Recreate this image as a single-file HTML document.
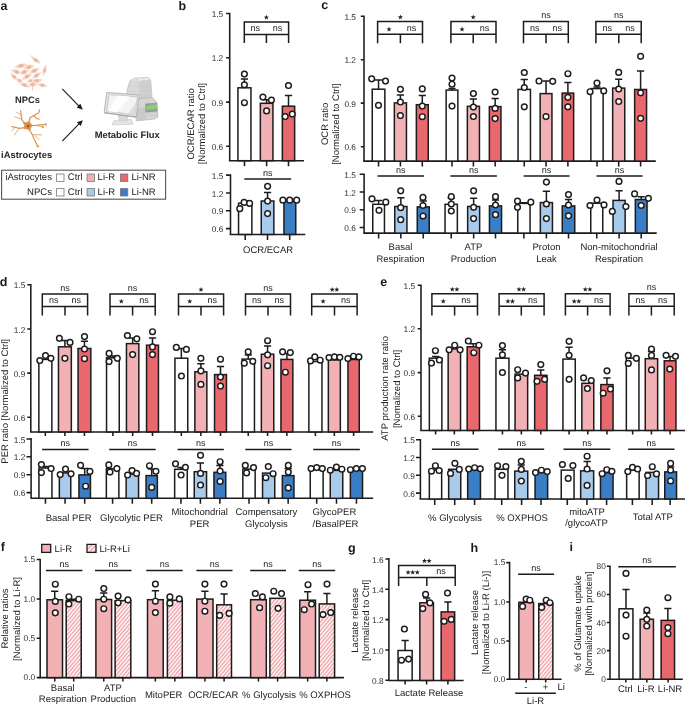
<!DOCTYPE html>
<html><head><meta charset="utf-8"><style>
html,body{margin:0;padding:0;background:#fff;}
svg{display:block;will-change:transform;}
text{font-family:"Liberation Sans", sans-serif;text-rendering:geometricPrecision;}
</style></head><body>
<svg width="685" height="705" viewBox="0 0 685 705">
<defs>
<pattern id="hatch" patternUnits="userSpaceOnUse" width="2.45" height="2.45" patternTransform="rotate(37)">
<rect width="2.45" height="2.45" fill="#f2b1b5"/>
<rect width="0.95" height="2.45" fill="#fff"/>
</pattern>
<pattern id="hatch2" patternUnits="userSpaceOnUse" width="3.2" height="3.2" patternTransform="rotate(45)"><rect width="3.2" height="3.2" fill="#f2b1b5"/><rect width="1.2" height="3.2" fill="#fff"/></pattern>
</defs>
<rect width="685" height="705" fill="#fff"/>
<text x="0.50" y="9.60" font-size="12.5" text-anchor="start" fill="#1a1a1a" font-weight="bold">a</text>
<text x="178.50" y="10.00" font-size="12.5" text-anchor="start" fill="#1a1a1a" font-weight="bold">b</text>
<text x="321.30" y="9.20" font-size="12.5" text-anchor="start" fill="#1a1a1a" font-weight="bold">c</text>
<text x="-0.30" y="286.00" font-size="12.5" text-anchor="start" fill="#1a1a1a" font-weight="bold">d</text>
<text x="380.30" y="286.00" font-size="12.5" text-anchor="start" fill="#1a1a1a" font-weight="bold">e</text>
<text x="0.80" y="551.20" font-size="12.5" text-anchor="start" fill="#1a1a1a" font-weight="bold">f</text>
<text x="348.00" y="552.00" font-size="12.5" text-anchor="start" fill="#1a1a1a" font-weight="bold">g</text>
<text x="470.60" y="551.80" font-size="12.5" text-anchor="start" fill="#1a1a1a" font-weight="bold">h</text>
<text x="569.60" y="551.20" font-size="12.5" text-anchor="start" fill="#1a1a1a" font-weight="bold">i</text>
<path d="M229.70 12.72V160.70M226.10 13.50H229.70M226.10 57.80H229.70M226.10 102.10H229.70M226.10 146.30H229.70" stroke="#1d1b1b" stroke-width="1.55" fill="none"/>
<text x="223.20" y="17.10" font-size="8.3" text-anchor="end" fill="#2e2e2e">1.5</text>
<text x="223.20" y="61.40" font-size="8.3" text-anchor="end" fill="#2e2e2e">1.2</text>
<text x="223.20" y="105.70" font-size="8.3" text-anchor="end" fill="#2e2e2e">0.9</text>
<text x="223.20" y="149.90" font-size="8.3" text-anchor="end" fill="#2e2e2e">0.6</text>
<path d="M228.92 160.70H304.00M244.50 160.70V166.20M266.60 160.70V166.20M288.50 160.70V166.20" stroke="#1d1b1b" stroke-width="1.55" fill="none"/>
<rect x="237.95" y="87.80" width="13.00" height="72.90" fill="#ffffff" stroke="#1d1b1b" stroke-width="1.5"/>
<rect x="260.35" y="103.30" width="12.60" height="57.40" fill="#f2b1b5" stroke="#1d1b1b" stroke-width="1.5"/>
<rect x="282.35" y="106.20" width="12.30" height="54.50" fill="#e8686e" stroke="#1d1b1b" stroke-width="1.5"/>
<path d="M244.45 87.90V78.90M240.85 78.90H248.05" stroke="#1d1b1b" stroke-width="1.5" fill="none"/>
<path d="M266.65 103.40V99.80M263.05 99.80H270.25" stroke="#1d1b1b" stroke-width="1.5" fill="none"/>
<path d="M288.50 106.30V95.50M284.90 95.50H292.10" stroke="#1d1b1b" stroke-width="1.5" fill="none"/>
<circle cx="244.40" cy="74.10" r="2.85" fill="#fff" stroke="#1d1b1b" stroke-width="1.45"/>
<circle cx="244.40" cy="84.80" r="2.85" fill="#fff" stroke="#1d1b1b" stroke-width="1.45"/>
<circle cx="244.40" cy="102.70" r="2.85" fill="#fff" stroke="#1d1b1b" stroke-width="1.45"/>
<circle cx="262.90" cy="97.10" r="2.85" fill="#fff" stroke="#1d1b1b" stroke-width="1.45"/>
<circle cx="271.40" cy="100.10" r="2.85" fill="#fff" stroke="#1d1b1b" stroke-width="1.45"/>
<circle cx="266.60" cy="110.90" r="2.85" fill="#fff" stroke="#1d1b1b" stroke-width="1.45"/>
<circle cx="288.50" cy="85.50" r="2.85" fill="#fff" stroke="#1d1b1b" stroke-width="1.45"/>
<circle cx="285.20" cy="116.50" r="2.85" fill="#fff" stroke="#1d1b1b" stroke-width="1.45"/>
<circle cx="292.30" cy="114.10" r="2.85" fill="#fff" stroke="#1d1b1b" stroke-width="1.45"/>
<path d="M244.30 43.10V21.90H288.60V43.10M244.30 34.60H288.60M266.40 34.60V43.10" stroke="#1d1b1b" stroke-width="1.5" fill="none"/>
<path d="M266.40 14.80 L267.06 16.59 L268.97 16.67 L267.47 17.85 L267.99 19.68 L266.40 18.62 L264.81 19.68 L265.33 17.85 L263.83 16.67 L265.74 16.59Z" fill="#222222"/>
<text x="255.35" y="31.20" font-size="9.0" text-anchor="middle" fill="#222222">ns</text>
<text x="277.50" y="31.20" font-size="9.0" text-anchor="middle" fill="#222222">ns</text>
<path d="M230.50 174.32V234.40M226.00 175.10H230.50M226.00 193.00H230.50M226.00 210.80H230.50M226.00 228.60H230.50" stroke="#1d1b1b" stroke-width="1.55" fill="none"/>
<text x="223.40" y="178.70" font-size="8.3" text-anchor="end" fill="#2e2e2e">1.5</text>
<text x="223.40" y="196.60" font-size="8.3" text-anchor="end" fill="#2e2e2e">1.2</text>
<text x="223.40" y="214.40" font-size="8.3" text-anchor="end" fill="#2e2e2e">0.9</text>
<text x="223.40" y="232.20" font-size="8.3" text-anchor="end" fill="#2e2e2e">0.6</text>
<path d="M229.72 234.40H305.30M245.20 234.40V239.90M267.50 234.40V239.90M289.70 234.40V239.90" stroke="#1d1b1b" stroke-width="1.55" fill="none"/>
<rect x="238.55" y="203.20" width="13.30" height="31.20" fill="#ffffff" stroke="#1d1b1b" stroke-width="1.5"/>
<rect x="261.25" y="201.00" width="12.60" height="33.40" fill="#a9cbeb" stroke="#1d1b1b" stroke-width="1.5"/>
<rect x="283.95" y="200.60" width="11.80" height="33.80" fill="#3a7ec6" stroke="#1d1b1b" stroke-width="1.5"/>
<path d="M245.20 203.30V201.00M241.60 201.00H248.80" stroke="#1d1b1b" stroke-width="1.5" fill="none"/>
<path d="M267.55 201.10V192.60M263.95 192.60H271.15" stroke="#1d1b1b" stroke-width="1.5" fill="none"/>
<path d="M289.85 200.70V199.50M286.25 199.50H293.45" stroke="#1d1b1b" stroke-width="1.5" fill="none"/>
<circle cx="239.80" cy="208.70" r="2.85" fill="#fff" stroke="#1d1b1b" stroke-width="1.45"/>
<circle cx="244.10" cy="202.40" r="2.85" fill="#fff" stroke="#1d1b1b" stroke-width="1.45"/>
<circle cx="249.60" cy="203.40" r="2.85" fill="#fff" stroke="#1d1b1b" stroke-width="1.45"/>
<circle cx="267.60" cy="186.30" r="2.85" fill="#fff" stroke="#1d1b1b" stroke-width="1.45"/>
<circle cx="267.60" cy="201.10" r="2.85" fill="#fff" stroke="#1d1b1b" stroke-width="1.45"/>
<circle cx="267.60" cy="213.60" r="2.85" fill="#fff" stroke="#1d1b1b" stroke-width="1.45"/>
<circle cx="282.90" cy="200.20" r="2.85" fill="#fff" stroke="#1d1b1b" stroke-width="1.45"/>
<circle cx="289.70" cy="200.20" r="2.85" fill="#fff" stroke="#1d1b1b" stroke-width="1.45"/>
<circle cx="296.70" cy="200.20" r="2.85" fill="#fff" stroke="#1d1b1b" stroke-width="1.45"/>
<path d="M244.30 179.00H291.20" stroke="#1d1b1b" stroke-width="1.5" fill="none"/>
<text x="267.75" y="175.60" font-size="9.0" text-anchor="middle" fill="#222222">ns</text>
<text x="194.30" y="123.90" font-size="9.5" text-anchor="middle" fill="#222222" transform="rotate(-90 194.30 123.90)">OCR/ECAR ratio</text>
<text x="205.20" y="123.70" font-size="9.5" text-anchor="middle" fill="#222222" transform="rotate(-90 205.20 123.70)">[Normalized to Ctrl]</text>
<text x="268.10" y="253.20" font-size="9.5" text-anchor="middle" fill="#222222">OCR/ECAR</text>
<path d="M364.00 15.53V161.10M360.80 16.30H364.00M360.80 59.70H364.00M360.80 103.10H364.00M360.80 146.70H364.00" stroke="#1d1b1b" stroke-width="1.55" fill="none"/>
<text x="356.00" y="19.90" font-size="8.3" text-anchor="end" fill="#2e2e2e">1.5</text>
<text x="356.00" y="63.30" font-size="8.3" text-anchor="end" fill="#2e2e2e">1.2</text>
<text x="356.00" y="106.70" font-size="8.3" text-anchor="end" fill="#2e2e2e">0.9</text>
<text x="356.00" y="150.30" font-size="8.3" text-anchor="end" fill="#2e2e2e">0.6</text>
<path d="M363.23 161.10H655.80M378.55 161.10V166.60M400.40 161.10V166.60M422.30 161.10V166.60M452.00 161.10V166.60M473.40 161.10V166.60M495.15 161.10V166.60M524.25 161.10V166.60M546.05 161.10V166.60M567.90 161.10V166.60M597.00 161.10V166.60M618.70 161.10V166.60M640.60 161.10V166.60" stroke="#1d1b1b" stroke-width="1.55" fill="none"/>
<rect x="372.25" y="89.20" width="12.60" height="71.90" fill="#ffffff" stroke="#1d1b1b" stroke-width="1.5"/>
<rect x="394.35" y="102.90" width="12.10" height="58.20" fill="#f2b1b5" stroke="#1d1b1b" stroke-width="1.5"/>
<rect x="416.35" y="104.70" width="11.90" height="56.40" fill="#e8686e" stroke="#1d1b1b" stroke-width="1.5"/>
<path d="M378.55 89.30V80.10M374.95 80.10H382.15" stroke="#1d1b1b" stroke-width="1.5" fill="none"/>
<path d="M400.40 103.00V95.00M396.80 95.00H404.00" stroke="#1d1b1b" stroke-width="1.5" fill="none"/>
<path d="M422.30 104.80V95.60M418.70 95.60H425.90" stroke="#1d1b1b" stroke-width="1.5" fill="none"/>
<circle cx="371.70" cy="78.80" r="2.85" fill="#fff" stroke="#1d1b1b" stroke-width="1.45"/>
<circle cx="385.50" cy="81.10" r="2.85" fill="#fff" stroke="#1d1b1b" stroke-width="1.45"/>
<circle cx="378.50" cy="105.30" r="2.85" fill="#fff" stroke="#1d1b1b" stroke-width="1.45"/>
<circle cx="400.40" cy="89.30" r="2.85" fill="#fff" stroke="#1d1b1b" stroke-width="1.45"/>
<circle cx="400.40" cy="102.00" r="2.85" fill="#fff" stroke="#1d1b1b" stroke-width="1.45"/>
<circle cx="400.40" cy="115.60" r="2.85" fill="#fff" stroke="#1d1b1b" stroke-width="1.45"/>
<circle cx="422.30" cy="88.90" r="2.85" fill="#fff" stroke="#1d1b1b" stroke-width="1.45"/>
<circle cx="422.30" cy="106.10" r="2.85" fill="#fff" stroke="#1d1b1b" stroke-width="1.45"/>
<circle cx="422.30" cy="116.70" r="2.85" fill="#fff" stroke="#1d1b1b" stroke-width="1.45"/>
<rect x="446.15" y="90.10" width="11.70" height="71.00" fill="#ffffff" stroke="#1d1b1b" stroke-width="1.5"/>
<rect x="467.35" y="106.30" width="12.10" height="54.80" fill="#f2b1b5" stroke="#1d1b1b" stroke-width="1.5"/>
<rect x="489.35" y="106.60" width="11.60" height="54.50" fill="#e8686e" stroke="#1d1b1b" stroke-width="1.5"/>
<path d="M452.00 90.20V88.60M448.40 88.60H455.60" stroke="#1d1b1b" stroke-width="1.5" fill="none"/>
<path d="M473.40 106.40V99.00M469.80 99.00H477.00" stroke="#1d1b1b" stroke-width="1.5" fill="none"/>
<path d="M495.15 106.70V98.60M491.55 98.60H498.75" stroke="#1d1b1b" stroke-width="1.5" fill="none"/>
<circle cx="452.00" cy="78.10" r="2.85" fill="#fff" stroke="#1d1b1b" stroke-width="1.45"/>
<circle cx="452.00" cy="84.20" r="2.85" fill="#fff" stroke="#1d1b1b" stroke-width="1.45"/>
<circle cx="452.00" cy="106.10" r="2.85" fill="#fff" stroke="#1d1b1b" stroke-width="1.45"/>
<circle cx="473.40" cy="93.60" r="2.85" fill="#fff" stroke="#1d1b1b" stroke-width="1.45"/>
<circle cx="473.40" cy="107.10" r="2.85" fill="#fff" stroke="#1d1b1b" stroke-width="1.45"/>
<circle cx="473.40" cy="116.50" r="2.85" fill="#fff" stroke="#1d1b1b" stroke-width="1.45"/>
<circle cx="495.10" cy="92.00" r="2.85" fill="#fff" stroke="#1d1b1b" stroke-width="1.45"/>
<circle cx="495.10" cy="108.40" r="2.85" fill="#fff" stroke="#1d1b1b" stroke-width="1.45"/>
<circle cx="495.10" cy="118.60" r="2.85" fill="#fff" stroke="#1d1b1b" stroke-width="1.45"/>
<rect x="518.05" y="89.40" width="12.40" height="71.70" fill="#ffffff" stroke="#1d1b1b" stroke-width="1.5"/>
<rect x="540.15" y="93.60" width="11.80" height="67.50" fill="#f2b1b5" stroke="#1d1b1b" stroke-width="1.5"/>
<rect x="562.15" y="93.10" width="11.50" height="68.00" fill="#e8686e" stroke="#1d1b1b" stroke-width="1.5"/>
<path d="M524.25 89.50V79.40M520.65 79.40H527.85" stroke="#1d1b1b" stroke-width="1.5" fill="none"/>
<path d="M546.05 93.70V81.00M542.45 81.00H549.65" stroke="#1d1b1b" stroke-width="1.5" fill="none"/>
<path d="M567.90 93.20V82.60M564.30 82.60H571.50" stroke="#1d1b1b" stroke-width="1.5" fill="none"/>
<circle cx="524.30" cy="72.50" r="2.85" fill="#fff" stroke="#1d1b1b" stroke-width="1.45"/>
<circle cx="524.30" cy="87.50" r="2.85" fill="#fff" stroke="#1d1b1b" stroke-width="1.45"/>
<circle cx="524.30" cy="106.80" r="2.85" fill="#fff" stroke="#1d1b1b" stroke-width="1.45"/>
<circle cx="539.00" cy="81.00" r="2.85" fill="#fff" stroke="#1d1b1b" stroke-width="1.45"/>
<circle cx="552.70" cy="81.30" r="2.85" fill="#fff" stroke="#1d1b1b" stroke-width="1.45"/>
<circle cx="546.00" cy="116.60" r="2.85" fill="#fff" stroke="#1d1b1b" stroke-width="1.45"/>
<circle cx="567.90" cy="73.70" r="2.85" fill="#fff" stroke="#1d1b1b" stroke-width="1.45"/>
<circle cx="567.90" cy="97.30" r="2.85" fill="#fff" stroke="#1d1b1b" stroke-width="1.45"/>
<circle cx="567.90" cy="106.80" r="2.85" fill="#fff" stroke="#1d1b1b" stroke-width="1.45"/>
<rect x="590.85" y="88.60" width="12.30" height="72.50" fill="#ffffff" stroke="#1d1b1b" stroke-width="1.5"/>
<rect x="612.65" y="88.10" width="12.10" height="73.00" fill="#f2b1b5" stroke="#1d1b1b" stroke-width="1.5"/>
<rect x="634.65" y="89.50" width="11.90" height="71.60" fill="#e8686e" stroke="#1d1b1b" stroke-width="1.5"/>
<path d="M597.00 88.70V87.00M593.40 87.00H600.60" stroke="#1d1b1b" stroke-width="1.5" fill="none"/>
<path d="M618.70 88.20V79.30M615.10 79.30H622.30" stroke="#1d1b1b" stroke-width="1.5" fill="none"/>
<path d="M640.60 89.60V71.00M637.00 71.00H644.20" stroke="#1d1b1b" stroke-width="1.5" fill="none"/>
<circle cx="590.10" cy="91.70" r="2.85" fill="#fff" stroke="#1d1b1b" stroke-width="1.45"/>
<circle cx="597.00" cy="83.10" r="2.85" fill="#fff" stroke="#1d1b1b" stroke-width="1.45"/>
<circle cx="603.70" cy="90.90" r="2.85" fill="#fff" stroke="#1d1b1b" stroke-width="1.45"/>
<circle cx="618.70" cy="72.40" r="2.85" fill="#fff" stroke="#1d1b1b" stroke-width="1.45"/>
<circle cx="618.70" cy="89.10" r="2.85" fill="#fff" stroke="#1d1b1b" stroke-width="1.45"/>
<circle cx="618.70" cy="101.50" r="2.85" fill="#fff" stroke="#1d1b1b" stroke-width="1.45"/>
<circle cx="640.60" cy="56.30" r="2.85" fill="#fff" stroke="#1d1b1b" stroke-width="1.45"/>
<circle cx="640.60" cy="92.80" r="2.85" fill="#fff" stroke="#1d1b1b" stroke-width="1.45"/>
<circle cx="640.60" cy="118.30" r="2.85" fill="#fff" stroke="#1d1b1b" stroke-width="1.45"/>
<path d="M377.60 43.30V21.60H422.50V43.30M377.60 34.30H422.50M400.40 34.30V43.30" stroke="#1d1b1b" stroke-width="1.5" fill="none"/>
<path d="M400.40 14.50 L401.06 16.29 L402.97 16.37 L401.47 17.55 L401.99 19.38 L400.40 18.32 L398.81 19.38 L399.33 17.55 L397.83 16.37 L399.74 16.29Z" fill="#222222"/>
<path d="M389.00 26.60 L389.66 28.39 L391.57 28.47 L390.07 29.65 L390.59 31.48 L389.00 30.42 L387.41 31.48 L387.93 29.65 L386.43 28.47 L388.34 28.39Z" fill="#222222"/>
<text x="411.45" y="30.90" font-size="9.0" text-anchor="middle" fill="#222222">ns</text>
<path d="M450.90 43.30V21.60H496.00V43.30M450.90 34.30H496.00M473.20 34.30V43.30" stroke="#1d1b1b" stroke-width="1.5" fill="none"/>
<path d="M473.20 14.50 L473.86 16.29 L475.77 16.37 L474.27 17.55 L474.79 19.38 L473.20 18.32 L471.61 19.38 L472.13 17.55 L470.63 16.37 L472.54 16.29Z" fill="#222222"/>
<path d="M462.05 26.60 L462.71 28.39 L464.62 28.47 L463.12 29.65 L463.64 31.48 L462.05 30.42 L460.46 31.48 L460.98 29.65 L459.48 28.47 L461.39 28.39Z" fill="#222222"/>
<text x="484.60" y="30.90" font-size="9.0" text-anchor="middle" fill="#222222">ns</text>
<path d="M523.50 43.30V21.60H568.30V43.30M523.50 34.30H568.30M546.00 34.30V43.30" stroke="#1d1b1b" stroke-width="1.5" fill="none"/>
<text x="546.00" y="18.20" font-size="9.0" text-anchor="middle" fill="#222222">ns</text>
<text x="534.75" y="30.90" font-size="9.0" text-anchor="middle" fill="#222222">ns</text>
<text x="557.15" y="30.90" font-size="9.0" text-anchor="middle" fill="#222222">ns</text>
<path d="M595.90 43.30V21.60H641.20V43.30M595.90 34.30H641.20M618.80 34.30V43.30" stroke="#1d1b1b" stroke-width="1.5" fill="none"/>
<text x="618.80" y="18.20" font-size="9.0" text-anchor="middle" fill="#222222">ns</text>
<text x="607.35" y="30.90" font-size="9.0" text-anchor="middle" fill="#222222">ns</text>
<text x="630.00" y="30.90" font-size="9.0" text-anchor="middle" fill="#222222">ns</text>
<path d="M364.10 173.42V233.10M359.70 174.20H364.10M359.70 192.00H364.10M359.70 209.80H364.10M359.70 227.50H364.10" stroke="#1d1b1b" stroke-width="1.55" fill="none"/>
<text x="355.90" y="177.80" font-size="8.3" text-anchor="end" fill="#2e2e2e">1.5</text>
<text x="355.90" y="195.60" font-size="8.3" text-anchor="end" fill="#2e2e2e">1.2</text>
<text x="355.90" y="213.40" font-size="8.3" text-anchor="end" fill="#2e2e2e">0.9</text>
<text x="355.90" y="231.10" font-size="8.3" text-anchor="end" fill="#2e2e2e">0.6</text>
<path d="M363.33 233.10H656.70M378.60 233.10V238.60M400.85 233.10V238.60M423.25 233.10V238.60M451.20 233.10V238.60M473.65 233.10V238.60M495.50 233.10V238.60M523.90 233.10V238.60M546.40 233.10V238.60M568.50 233.10V238.60M596.75 233.10V238.60M619.10 233.10V238.60M641.20 233.10V238.60" stroke="#1d1b1b" stroke-width="1.55" fill="none"/>
<rect x="372.75" y="204.30" width="11.70" height="28.80" fill="#ffffff" stroke="#1d1b1b" stroke-width="1.5"/>
<rect x="394.75" y="206.50" width="12.20" height="26.60" fill="#a9cbeb" stroke="#1d1b1b" stroke-width="1.5"/>
<rect x="417.25" y="206.90" width="12.00" height="26.20" fill="#3a7ec6" stroke="#1d1b1b" stroke-width="1.5"/>
<path d="M378.60 204.40V200.50M375.00 200.50H382.20" stroke="#1d1b1b" stroke-width="1.5" fill="none"/>
<path d="M400.85 206.60V197.80M397.25 197.80H404.45" stroke="#1d1b1b" stroke-width="1.5" fill="none"/>
<path d="M423.25 207.00V201.10M419.65 201.10H426.85" stroke="#1d1b1b" stroke-width="1.5" fill="none"/>
<circle cx="372.00" cy="198.90" r="2.85" fill="#fff" stroke="#1d1b1b" stroke-width="1.45"/>
<circle cx="385.80" cy="202.20" r="2.85" fill="#fff" stroke="#1d1b1b" stroke-width="1.45"/>
<circle cx="379.00" cy="210.30" r="2.85" fill="#fff" stroke="#1d1b1b" stroke-width="1.45"/>
<circle cx="400.70" cy="190.80" r="2.85" fill="#fff" stroke="#1d1b1b" stroke-width="1.45"/>
<circle cx="400.70" cy="207.70" r="2.85" fill="#fff" stroke="#1d1b1b" stroke-width="1.45"/>
<circle cx="400.70" cy="219.70" r="2.85" fill="#fff" stroke="#1d1b1b" stroke-width="1.45"/>
<circle cx="423.00" cy="197.40" r="2.85" fill="#fff" stroke="#1d1b1b" stroke-width="1.45"/>
<circle cx="423.00" cy="205.50" r="2.85" fill="#fff" stroke="#1d1b1b" stroke-width="1.45"/>
<circle cx="423.00" cy="216.00" r="2.85" fill="#fff" stroke="#1d1b1b" stroke-width="1.45"/>
<rect x="445.05" y="204.30" width="12.30" height="28.80" fill="#ffffff" stroke="#1d1b1b" stroke-width="1.5"/>
<rect x="467.65" y="206.50" width="12.00" height="26.60" fill="#a9cbeb" stroke="#1d1b1b" stroke-width="1.5"/>
<rect x="489.45" y="205.90" width="12.10" height="27.20" fill="#3a7ec6" stroke="#1d1b1b" stroke-width="1.5"/>
<path d="M451.20 204.40V198.00M447.60 198.00H454.80" stroke="#1d1b1b" stroke-width="1.5" fill="none"/>
<path d="M473.65 206.60V198.30M470.05 198.30H477.25" stroke="#1d1b1b" stroke-width="1.5" fill="none"/>
<path d="M495.50 206.00V200.00M491.90 200.00H499.10" stroke="#1d1b1b" stroke-width="1.5" fill="none"/>
<circle cx="451.30" cy="196.70" r="2.85" fill="#fff" stroke="#1d1b1b" stroke-width="1.45"/>
<circle cx="451.30" cy="204.00" r="2.85" fill="#fff" stroke="#1d1b1b" stroke-width="1.45"/>
<circle cx="451.30" cy="211.00" r="2.85" fill="#fff" stroke="#1d1b1b" stroke-width="1.45"/>
<circle cx="473.60" cy="190.80" r="2.85" fill="#fff" stroke="#1d1b1b" stroke-width="1.45"/>
<circle cx="473.60" cy="207.30" r="2.85" fill="#fff" stroke="#1d1b1b" stroke-width="1.45"/>
<circle cx="473.60" cy="218.60" r="2.85" fill="#fff" stroke="#1d1b1b" stroke-width="1.45"/>
<circle cx="495.50" cy="196.70" r="2.85" fill="#fff" stroke="#1d1b1b" stroke-width="1.45"/>
<circle cx="495.50" cy="205.00" r="2.85" fill="#fff" stroke="#1d1b1b" stroke-width="1.45"/>
<circle cx="495.50" cy="214.70" r="2.85" fill="#fff" stroke="#1d1b1b" stroke-width="1.45"/>
<rect x="517.75" y="203.40" width="12.30" height="29.70" fill="#ffffff" stroke="#1d1b1b" stroke-width="1.5"/>
<rect x="540.35" y="202.60" width="12.10" height="30.50" fill="#a9cbeb" stroke="#1d1b1b" stroke-width="1.5"/>
<rect x="562.25" y="205.90" width="12.50" height="27.20" fill="#3a7ec6" stroke="#1d1b1b" stroke-width="1.5"/>
<path d="M523.90 203.50V202.70M520.30 202.70H527.50" stroke="#1d1b1b" stroke-width="1.5" fill="none"/>
<path d="M546.40 202.70V191.30M542.80 191.30H550.00" stroke="#1d1b1b" stroke-width="1.5" fill="none"/>
<path d="M568.50 206.00V199.40M564.90 199.40H572.10" stroke="#1d1b1b" stroke-width="1.5" fill="none"/>
<circle cx="517.50" cy="201.10" r="2.85" fill="#fff" stroke="#1d1b1b" stroke-width="1.45"/>
<circle cx="517.50" cy="207.30" r="2.85" fill="#fff" stroke="#1d1b1b" stroke-width="1.45"/>
<circle cx="530.80" cy="202.20" r="2.85" fill="#fff" stroke="#1d1b1b" stroke-width="1.45"/>
<circle cx="546.40" cy="182.10" r="2.85" fill="#fff" stroke="#1d1b1b" stroke-width="1.45"/>
<circle cx="546.40" cy="204.00" r="2.85" fill="#fff" stroke="#1d1b1b" stroke-width="1.45"/>
<circle cx="546.40" cy="218.60" r="2.85" fill="#fff" stroke="#1d1b1b" stroke-width="1.45"/>
<circle cx="568.50" cy="194.60" r="2.85" fill="#fff" stroke="#1d1b1b" stroke-width="1.45"/>
<circle cx="568.50" cy="205.00" r="2.85" fill="#fff" stroke="#1d1b1b" stroke-width="1.45"/>
<circle cx="568.50" cy="215.80" r="2.85" fill="#fff" stroke="#1d1b1b" stroke-width="1.45"/>
<rect x="590.75" y="203.20" width="12.00" height="29.90" fill="#ffffff" stroke="#1d1b1b" stroke-width="1.5"/>
<rect x="613.05" y="200.40" width="12.10" height="32.70" fill="#a9cbeb" stroke="#1d1b1b" stroke-width="1.5"/>
<rect x="635.35" y="199.50" width="11.70" height="33.60" fill="#3a7ec6" stroke="#1d1b1b" stroke-width="1.5"/>
<path d="M619.10 200.50V190.80M615.50 190.80H622.70" stroke="#1d1b1b" stroke-width="1.5" fill="none"/>
<path d="M641.20 199.60V196.70M637.60 196.70H644.80" stroke="#1d1b1b" stroke-width="1.5" fill="none"/>
<circle cx="590.00" cy="205.50" r="2.85" fill="#fff" stroke="#1d1b1b" stroke-width="1.45"/>
<circle cx="597.00" cy="200.00" r="2.85" fill="#fff" stroke="#1d1b1b" stroke-width="1.45"/>
<circle cx="604.00" cy="204.90" r="2.85" fill="#fff" stroke="#1d1b1b" stroke-width="1.45"/>
<circle cx="612.30" cy="211.40" r="2.85" fill="#fff" stroke="#1d1b1b" stroke-width="1.45"/>
<circle cx="619.00" cy="181.40" r="2.85" fill="#fff" stroke="#1d1b1b" stroke-width="1.45"/>
<circle cx="625.90" cy="206.60" r="2.85" fill="#fff" stroke="#1d1b1b" stroke-width="1.45"/>
<circle cx="634.60" cy="193.90" r="2.85" fill="#fff" stroke="#1d1b1b" stroke-width="1.45"/>
<circle cx="648.40" cy="198.30" r="2.85" fill="#fff" stroke="#1d1b1b" stroke-width="1.45"/>
<circle cx="641.20" cy="205.50" r="2.85" fill="#fff" stroke="#1d1b1b" stroke-width="1.45"/>
<path d="M377.50 176.00H424.00" stroke="#1d1b1b" stroke-width="1.5" fill="none"/>
<text x="400.75" y="172.60" font-size="9.0" text-anchor="middle" fill="#222222">ns</text>
<path d="M450.40 176.00H496.90" stroke="#1d1b1b" stroke-width="1.5" fill="none"/>
<text x="473.65" y="172.60" font-size="9.0" text-anchor="middle" fill="#222222">ns</text>
<path d="M523.60 176.00H569.60" stroke="#1d1b1b" stroke-width="1.5" fill="none"/>
<text x="546.60" y="172.60" font-size="9.0" text-anchor="middle" fill="#222222">ns</text>
<path d="M596.50 176.00H642.50" stroke="#1d1b1b" stroke-width="1.5" fill="none"/>
<text x="619.50" y="172.60" font-size="9.0" text-anchor="middle" fill="#222222">ns</text>
<text x="328.20" y="123.90" font-size="9.5" text-anchor="middle" fill="#222222" transform="rotate(-90 328.20 123.90)">OCR ratio</text>
<text x="338.70" y="124.20" font-size="9.5" text-anchor="middle" fill="#222222" transform="rotate(-90 338.70 124.20)">[Normalized to Ctrl]</text>
<text x="400.50" y="250.30" font-size="9.5" text-anchor="middle" fill="#222222">Basal</text>
<text x="400.50" y="262.00" font-size="9.5" text-anchor="middle" fill="#222222">Respiration</text>
<text x="473.50" y="250.30" font-size="9.5" text-anchor="middle" fill="#222222">ATP</text>
<text x="473.50" y="262.00" font-size="9.5" text-anchor="middle" fill="#222222">Production</text>
<text x="546.50" y="250.30" font-size="9.5" text-anchor="middle" fill="#222222">Proton</text>
<text x="546.50" y="262.00" font-size="9.5" text-anchor="middle" fill="#222222">Leak</text>
<text x="619.00" y="250.30" font-size="9.5" text-anchor="middle" fill="#222222">Non-mitochondrial</text>
<text x="619.00" y="262.00" font-size="9.5" text-anchor="middle" fill="#222222">Respiration</text>
<path d="M30.80 283.93V431.90M27.30 284.70H30.80M27.30 328.90H30.80M27.30 373.10H30.80M27.30 417.30H30.80" stroke="#1d1b1b" stroke-width="1.55" fill="none"/>
<text x="25.40" y="288.30" font-size="8.3" text-anchor="end" fill="#2e2e2e">1.5</text>
<text x="25.40" y="332.50" font-size="8.3" text-anchor="end" fill="#2e2e2e">1.2</text>
<text x="25.40" y="376.70" font-size="8.3" text-anchor="end" fill="#2e2e2e">0.9</text>
<text x="25.40" y="420.90" font-size="8.3" text-anchor="end" fill="#2e2e2e">0.6</text>
<path d="M30.03 431.90H373.20M45.35 431.90V435.90M64.90 431.90V435.90M84.45 431.90V435.90M112.90 431.90V435.90M132.65 431.90V435.90M152.50 431.90V435.90M181.35 431.90V435.90M200.85 431.90V435.90M220.50 431.90V435.90M248.25 431.90V435.90M267.55 431.90V435.90M286.90 431.90V435.90M315.40 431.90V435.90M334.35 431.90V435.90M353.60 431.90V435.90" stroke="#1d1b1b" stroke-width="1.55" fill="none"/>
<rect x="38.85" y="359.40" width="13.00" height="72.50" fill="#ffffff" stroke="#1d1b1b" stroke-width="1.5"/>
<rect x="58.45" y="346.80" width="12.90" height="85.10" fill="#f2b1b5" stroke="#1d1b1b" stroke-width="1.5"/>
<rect x="78.05" y="348.50" width="12.80" height="83.40" fill="#e8686e" stroke="#1d1b1b" stroke-width="1.5"/>
<path d="M64.90 346.90V340.40M61.30 340.40H68.50" stroke="#1d1b1b" stroke-width="1.5" fill="none"/>
<path d="M84.45 348.60V341.20M80.85 341.20H88.05" stroke="#1d1b1b" stroke-width="1.5" fill="none"/>
<circle cx="39.80" cy="360.50" r="2.85" fill="#fff" stroke="#1d1b1b" stroke-width="1.45"/>
<circle cx="45.50" cy="355.60" r="2.85" fill="#fff" stroke="#1d1b1b" stroke-width="1.45"/>
<circle cx="50.90" cy="358.30" r="2.85" fill="#fff" stroke="#1d1b1b" stroke-width="1.45"/>
<circle cx="59.40" cy="338.30" r="2.85" fill="#fff" stroke="#1d1b1b" stroke-width="1.45"/>
<circle cx="70.00" cy="342.40" r="2.85" fill="#fff" stroke="#1d1b1b" stroke-width="1.45"/>
<circle cx="64.90" cy="358.30" r="2.85" fill="#fff" stroke="#1d1b1b" stroke-width="1.45"/>
<circle cx="84.50" cy="336.60" r="2.85" fill="#fff" stroke="#1d1b1b" stroke-width="1.45"/>
<circle cx="84.50" cy="349.00" r="2.85" fill="#fff" stroke="#1d1b1b" stroke-width="1.45"/>
<circle cx="84.50" cy="358.70" r="2.85" fill="#fff" stroke="#1d1b1b" stroke-width="1.45"/>
<rect x="106.55" y="357.80" width="12.70" height="74.10" fill="#ffffff" stroke="#1d1b1b" stroke-width="1.5"/>
<rect x="126.45" y="343.60" width="12.40" height="88.30" fill="#f2b1b5" stroke="#1d1b1b" stroke-width="1.5"/>
<rect x="146.55" y="345.20" width="11.90" height="86.70" fill="#e8686e" stroke="#1d1b1b" stroke-width="1.5"/>
<path d="M112.90 357.90V356.00M109.30 356.00H116.50" stroke="#1d1b1b" stroke-width="1.5" fill="none"/>
<path d="M132.65 343.70V338.00M129.05 338.00H136.25" stroke="#1d1b1b" stroke-width="1.5" fill="none"/>
<path d="M152.50 345.30V338.00M148.90 338.00H156.10" stroke="#1d1b1b" stroke-width="1.5" fill="none"/>
<circle cx="109.10" cy="353.40" r="2.85" fill="#fff" stroke="#1d1b1b" stroke-width="1.45"/>
<circle cx="109.10" cy="361.60" r="2.85" fill="#fff" stroke="#1d1b1b" stroke-width="1.45"/>
<circle cx="117.30" cy="358.30" r="2.85" fill="#fff" stroke="#1d1b1b" stroke-width="1.45"/>
<circle cx="127.40" cy="335.50" r="2.85" fill="#fff" stroke="#1d1b1b" stroke-width="1.45"/>
<circle cx="136.80" cy="338.80" r="2.85" fill="#fff" stroke="#1d1b1b" stroke-width="1.45"/>
<circle cx="132.60" cy="354.60" r="2.85" fill="#fff" stroke="#1d1b1b" stroke-width="1.45"/>
<circle cx="152.50" cy="331.70" r="2.85" fill="#fff" stroke="#1d1b1b" stroke-width="1.45"/>
<circle cx="152.50" cy="346.90" r="2.85" fill="#fff" stroke="#1d1b1b" stroke-width="1.45"/>
<circle cx="152.50" cy="354.60" r="2.85" fill="#fff" stroke="#1d1b1b" stroke-width="1.45"/>
<rect x="174.95" y="358.20" width="12.80" height="73.70" fill="#ffffff" stroke="#1d1b1b" stroke-width="1.5"/>
<rect x="194.85" y="371.80" width="12.00" height="60.10" fill="#f2b1b5" stroke="#1d1b1b" stroke-width="1.5"/>
<rect x="214.55" y="374.60" width="11.90" height="57.30" fill="#e8686e" stroke="#1d1b1b" stroke-width="1.5"/>
<path d="M181.35 358.30V348.60M177.75 348.60H184.95" stroke="#1d1b1b" stroke-width="1.5" fill="none"/>
<path d="M200.85 371.90V363.70M197.25 363.70H204.45" stroke="#1d1b1b" stroke-width="1.5" fill="none"/>
<path d="M220.50 374.70V366.50M216.90 366.50H224.10" stroke="#1d1b1b" stroke-width="1.5" fill="none"/>
<circle cx="176.30" cy="347.40" r="2.85" fill="#fff" stroke="#1d1b1b" stroke-width="1.45"/>
<circle cx="186.40" cy="349.40" r="2.85" fill="#fff" stroke="#1d1b1b" stroke-width="1.45"/>
<circle cx="181.40" cy="376.00" r="2.85" fill="#fff" stroke="#1d1b1b" stroke-width="1.45"/>
<circle cx="200.90" cy="358.30" r="2.85" fill="#fff" stroke="#1d1b1b" stroke-width="1.45"/>
<circle cx="200.90" cy="370.90" r="2.85" fill="#fff" stroke="#1d1b1b" stroke-width="1.45"/>
<circle cx="200.90" cy="384.40" r="2.85" fill="#fff" stroke="#1d1b1b" stroke-width="1.45"/>
<circle cx="220.50" cy="359.20" r="2.85" fill="#fff" stroke="#1d1b1b" stroke-width="1.45"/>
<circle cx="220.50" cy="377.10" r="2.85" fill="#fff" stroke="#1d1b1b" stroke-width="1.45"/>
<circle cx="220.50" cy="386.10" r="2.85" fill="#fff" stroke="#1d1b1b" stroke-width="1.45"/>
<rect x="242.05" y="359.10" width="12.40" height="72.80" fill="#ffffff" stroke="#1d1b1b" stroke-width="1.5"/>
<rect x="261.35" y="354.20" width="12.40" height="77.70" fill="#f2b1b5" stroke="#1d1b1b" stroke-width="1.5"/>
<rect x="280.95" y="359.40" width="11.90" height="72.50" fill="#e8686e" stroke="#1d1b1b" stroke-width="1.5"/>
<path d="M248.25 359.20V355.10M244.65 355.10H251.85" stroke="#1d1b1b" stroke-width="1.5" fill="none"/>
<path d="M267.55 354.30V346.10M263.95 346.10H271.15" stroke="#1d1b1b" stroke-width="1.5" fill="none"/>
<path d="M286.90 359.50V353.40M283.30 353.40H290.50" stroke="#1d1b1b" stroke-width="1.5" fill="none"/>
<circle cx="248.20" cy="351.80" r="2.85" fill="#fff" stroke="#1d1b1b" stroke-width="1.45"/>
<circle cx="244.30" cy="363.20" r="2.85" fill="#fff" stroke="#1d1b1b" stroke-width="1.45"/>
<circle cx="252.80" cy="361.30" r="2.85" fill="#fff" stroke="#1d1b1b" stroke-width="1.45"/>
<circle cx="267.60" cy="340.70" r="2.85" fill="#fff" stroke="#1d1b1b" stroke-width="1.45"/>
<circle cx="267.60" cy="354.80" r="2.85" fill="#fff" stroke="#1d1b1b" stroke-width="1.45"/>
<circle cx="267.60" cy="365.70" r="2.85" fill="#fff" stroke="#1d1b1b" stroke-width="1.45"/>
<circle cx="282.60" cy="351.80" r="2.85" fill="#fff" stroke="#1d1b1b" stroke-width="1.45"/>
<circle cx="290.30" cy="352.60" r="2.85" fill="#fff" stroke="#1d1b1b" stroke-width="1.45"/>
<circle cx="285.40" cy="372.20" r="2.85" fill="#fff" stroke="#1d1b1b" stroke-width="1.45"/>
<rect x="308.85" y="361.50" width="13.10" height="70.40" fill="#ffffff" stroke="#1d1b1b" stroke-width="1.5"/>
<rect x="328.35" y="359.90" width="12.00" height="72.00" fill="#f2b1b5" stroke="#1d1b1b" stroke-width="1.5"/>
<rect x="347.95" y="359.50" width="11.30" height="72.40" fill="#e8686e" stroke="#1d1b1b" stroke-width="1.5"/>
<circle cx="310.50" cy="360.90" r="2.85" fill="#fff" stroke="#1d1b1b" stroke-width="1.45"/>
<circle cx="314.80" cy="356.90" r="2.85" fill="#fff" stroke="#1d1b1b" stroke-width="1.45"/>
<circle cx="320.20" cy="360.20" r="2.85" fill="#fff" stroke="#1d1b1b" stroke-width="1.45"/>
<circle cx="329.00" cy="357.50" r="2.85" fill="#fff" stroke="#1d1b1b" stroke-width="1.45"/>
<circle cx="334.40" cy="356.90" r="2.85" fill="#fff" stroke="#1d1b1b" stroke-width="1.45"/>
<circle cx="339.80" cy="357.30" r="2.85" fill="#fff" stroke="#1d1b1b" stroke-width="1.45"/>
<circle cx="347.90" cy="358.60" r="2.85" fill="#fff" stroke="#1d1b1b" stroke-width="1.45"/>
<circle cx="353.50" cy="356.20" r="2.85" fill="#fff" stroke="#1d1b1b" stroke-width="1.45"/>
<circle cx="358.90" cy="356.90" r="2.85" fill="#fff" stroke="#1d1b1b" stroke-width="1.45"/>
<path d="M42.30 315.50V294.00H87.60V315.50M42.30 306.40H87.60M65.00 306.40V315.50" stroke="#1d1b1b" stroke-width="1.5" fill="none"/>
<text x="65.00" y="290.60" font-size="9.0" text-anchor="middle" fill="#222222">ns</text>
<text x="53.65" y="303.00" font-size="9.0" text-anchor="middle" fill="#222222">ns</text>
<text x="76.30" y="303.00" font-size="9.0" text-anchor="middle" fill="#222222">ns</text>
<path d="M110.00 315.50V294.00H155.20V315.50M110.00 306.40H155.20M132.60 306.40V315.50" stroke="#1d1b1b" stroke-width="1.5" fill="none"/>
<text x="132.60" y="290.60" font-size="9.0" text-anchor="middle" fill="#222222">ns</text>
<path d="M121.30 298.70 L121.96 300.49 L123.87 300.57 L122.37 301.75 L122.89 303.58 L121.30 302.52 L119.71 303.58 L120.23 301.75 L118.73 300.57 L120.64 300.49Z" fill="#222222"/>
<text x="143.90" y="303.00" font-size="9.0" text-anchor="middle" fill="#222222">ns</text>
<path d="M178.50 315.50V294.00H223.60V315.50M178.50 306.40H223.60M201.00 306.40V315.50" stroke="#1d1b1b" stroke-width="1.5" fill="none"/>
<path d="M201.00 286.90 L201.66 288.69 L203.57 288.77 L202.07 289.95 L202.59 291.78 L201.00 290.72 L199.41 291.78 L199.93 289.95 L198.43 288.77 L200.34 288.69Z" fill="#222222"/>
<path d="M189.75 298.70 L190.41 300.49 L192.32 300.57 L190.82 301.75 L191.34 303.58 L189.75 302.52 L188.16 303.58 L188.68 301.75 L187.18 300.57 L189.09 300.49Z" fill="#222222"/>
<text x="212.30" y="303.00" font-size="9.0" text-anchor="middle" fill="#222222">ns</text>
<path d="M245.50 315.50V294.00H290.50V315.50M245.50 306.40H290.50M268.00 306.40V315.50" stroke="#1d1b1b" stroke-width="1.5" fill="none"/>
<text x="268.00" y="290.60" font-size="9.0" text-anchor="middle" fill="#222222">ns</text>
<text x="256.75" y="303.00" font-size="9.0" text-anchor="middle" fill="#222222">ns</text>
<text x="279.25" y="303.00" font-size="9.0" text-anchor="middle" fill="#222222">ns</text>
<path d="M311.70 315.50V294.00H357.10V315.50M311.70 306.40H357.10M334.50 306.40V315.50" stroke="#1d1b1b" stroke-width="1.5" fill="none"/>
<path d="M332.20 286.90 L332.86 288.69 L334.77 288.77 L333.27 289.95 L333.79 291.78 L332.20 290.72 L330.61 291.78 L331.13 289.95 L329.63 288.77 L331.54 288.69Z" fill="#222222"/>
<path d="M336.80 286.90 L337.46 288.69 L339.37 288.77 L337.87 289.95 L338.39 291.78 L336.80 290.72 L335.21 291.78 L335.73 289.95 L334.23 288.77 L336.14 288.69Z" fill="#222222"/>
<path d="M323.10 298.70 L323.76 300.49 L325.67 300.57 L324.17 301.75 L324.69 303.58 L323.10 302.52 L321.51 303.58 L322.03 301.75 L320.53 300.57 L322.44 300.49Z" fill="#222222"/>
<text x="345.80" y="303.00" font-size="9.0" text-anchor="middle" fill="#222222">ns</text>
<path d="M31.10 438.12V498.30M26.50 438.90H31.10M26.50 456.80H31.10M26.50 474.80H31.10M26.50 492.60H31.10" stroke="#1d1b1b" stroke-width="1.55" fill="none"/>
<text x="25.40" y="442.50" font-size="8.3" text-anchor="end" fill="#2e2e2e">1.5</text>
<text x="25.40" y="460.40" font-size="8.3" text-anchor="end" fill="#2e2e2e">1.2</text>
<text x="25.40" y="478.40" font-size="8.3" text-anchor="end" fill="#2e2e2e">0.9</text>
<text x="25.40" y="496.20" font-size="8.3" text-anchor="end" fill="#2e2e2e">0.6</text>
<path d="M30.53 498.30H373.20M45.45 498.30V503.80M65.05 498.30V503.80M84.70 498.30V503.80M112.60 498.30V503.80M132.35 498.30V503.80M151.70 498.30V503.80M180.95 498.30V503.80M200.40 498.30V503.80M219.85 498.30V503.80M249.00 498.30V503.80M268.65 498.30V503.80M288.15 498.30V503.80M316.70 498.30V503.80M336.50 498.30V503.80M356.45 498.30V503.80" stroke="#1d1b1b" stroke-width="1.55" fill="none"/>
<rect x="38.95" y="468.00" width="13.00" height="30.30" fill="#ffffff" stroke="#1d1b1b" stroke-width="1.5"/>
<rect x="59.35" y="472.90" width="11.40" height="25.40" fill="#a9cbeb" stroke="#1d1b1b" stroke-width="1.5"/>
<rect x="78.95" y="474.90" width="11.50" height="23.40" fill="#3a7ec6" stroke="#1d1b1b" stroke-width="1.5"/>
<path d="M45.45 468.10V466.50M41.85 466.50H49.05" stroke="#1d1b1b" stroke-width="1.5" fill="none"/>
<path d="M84.70 475.00V468.50M81.10 468.50H88.30" stroke="#1d1b1b" stroke-width="1.5" fill="none"/>
<circle cx="41.40" cy="464.50" r="2.85" fill="#fff" stroke="#1d1b1b" stroke-width="1.45"/>
<circle cx="41.40" cy="472.60" r="2.85" fill="#fff" stroke="#1d1b1b" stroke-width="1.45"/>
<circle cx="51.10" cy="468.50" r="2.85" fill="#fff" stroke="#1d1b1b" stroke-width="1.45"/>
<circle cx="60.20" cy="474.60" r="2.85" fill="#fff" stroke="#1d1b1b" stroke-width="1.45"/>
<circle cx="65.50" cy="469.00" r="2.85" fill="#fff" stroke="#1d1b1b" stroke-width="1.45"/>
<circle cx="71.00" cy="473.80" r="2.85" fill="#fff" stroke="#1d1b1b" stroke-width="1.45"/>
<circle cx="80.60" cy="465.30" r="2.85" fill="#fff" stroke="#1d1b1b" stroke-width="1.45"/>
<circle cx="89.90" cy="471.40" r="2.85" fill="#fff" stroke="#1d1b1b" stroke-width="1.45"/>
<circle cx="85.60" cy="486.20" r="2.85" fill="#fff" stroke="#1d1b1b" stroke-width="1.45"/>
<rect x="106.35" y="468.80" width="12.50" height="29.50" fill="#ffffff" stroke="#1d1b1b" stroke-width="1.5"/>
<rect x="126.15" y="474.10" width="12.40" height="24.20" fill="#a9cbeb" stroke="#1d1b1b" stroke-width="1.5"/>
<rect x="146.05" y="475.60" width="11.30" height="22.70" fill="#3a7ec6" stroke="#1d1b1b" stroke-width="1.5"/>
<path d="M151.70 475.70V468.90M148.10 468.90H155.30" stroke="#1d1b1b" stroke-width="1.5" fill="none"/>
<circle cx="108.80" cy="464.90" r="2.85" fill="#fff" stroke="#1d1b1b" stroke-width="1.45"/>
<circle cx="110.00" cy="472.10" r="2.85" fill="#fff" stroke="#1d1b1b" stroke-width="1.45"/>
<circle cx="116.90" cy="468.60" r="2.85" fill="#fff" stroke="#1d1b1b" stroke-width="1.45"/>
<circle cx="127.60" cy="475.00" r="2.85" fill="#fff" stroke="#1d1b1b" stroke-width="1.45"/>
<circle cx="132.10" cy="470.50" r="2.85" fill="#fff" stroke="#1d1b1b" stroke-width="1.45"/>
<circle cx="136.60" cy="473.40" r="2.85" fill="#fff" stroke="#1d1b1b" stroke-width="1.45"/>
<circle cx="149.50" cy="465.70" r="2.85" fill="#fff" stroke="#1d1b1b" stroke-width="1.45"/>
<circle cx="155.90" cy="471.30" r="2.85" fill="#fff" stroke="#1d1b1b" stroke-width="1.45"/>
<circle cx="151.70" cy="487.40" r="2.85" fill="#fff" stroke="#1d1b1b" stroke-width="1.45"/>
<rect x="174.65" y="469.30" width="12.60" height="29.00" fill="#ffffff" stroke="#1d1b1b" stroke-width="1.5"/>
<rect x="194.25" y="471.70" width="12.30" height="26.60" fill="#a9cbeb" stroke="#1d1b1b" stroke-width="1.5"/>
<rect x="213.95" y="472.30" width="11.80" height="26.00" fill="#3a7ec6" stroke="#1d1b1b" stroke-width="1.5"/>
<path d="M180.95 469.40V467.50M177.35 467.50H184.55" stroke="#1d1b1b" stroke-width="1.5" fill="none"/>
<path d="M200.40 471.80V463.00M196.80 463.00H204.00" stroke="#1d1b1b" stroke-width="1.5" fill="none"/>
<path d="M219.85 472.40V465.40M216.25 465.40H223.45" stroke="#1d1b1b" stroke-width="1.5" fill="none"/>
<circle cx="175.50" cy="463.80" r="2.85" fill="#fff" stroke="#1d1b1b" stroke-width="1.45"/>
<circle cx="185.40" cy="467.30" r="2.85" fill="#fff" stroke="#1d1b1b" stroke-width="1.45"/>
<circle cx="181.10" cy="475.00" r="2.85" fill="#fff" stroke="#1d1b1b" stroke-width="1.45"/>
<circle cx="200.50" cy="455.30" r="2.85" fill="#fff" stroke="#1d1b1b" stroke-width="1.45"/>
<circle cx="200.50" cy="473.40" r="2.85" fill="#fff" stroke="#1d1b1b" stroke-width="1.45"/>
<circle cx="200.50" cy="485.00" r="2.85" fill="#fff" stroke="#1d1b1b" stroke-width="1.45"/>
<circle cx="220.10" cy="461.70" r="2.85" fill="#fff" stroke="#1d1b1b" stroke-width="1.45"/>
<circle cx="220.10" cy="471.00" r="2.85" fill="#fff" stroke="#1d1b1b" stroke-width="1.45"/>
<circle cx="220.10" cy="481.40" r="2.85" fill="#fff" stroke="#1d1b1b" stroke-width="1.45"/>
<rect x="242.85" y="469.10" width="12.30" height="29.20" fill="#ffffff" stroke="#1d1b1b" stroke-width="1.5"/>
<rect x="262.55" y="473.10" width="12.20" height="25.20" fill="#a9cbeb" stroke="#1d1b1b" stroke-width="1.5"/>
<rect x="282.35" y="475.60" width="11.60" height="22.70" fill="#3a7ec6" stroke="#1d1b1b" stroke-width="1.5"/>
<path d="M288.15 475.70V468.60M284.55 468.60H291.75" stroke="#1d1b1b" stroke-width="1.5" fill="none"/>
<circle cx="245.30" cy="465.40" r="2.85" fill="#fff" stroke="#1d1b1b" stroke-width="1.45"/>
<circle cx="246.60" cy="472.90" r="2.85" fill="#fff" stroke="#1d1b1b" stroke-width="1.45"/>
<circle cx="253.50" cy="467.60" r="2.85" fill="#fff" stroke="#1d1b1b" stroke-width="1.45"/>
<circle cx="268.30" cy="466.50" r="2.85" fill="#fff" stroke="#1d1b1b" stroke-width="1.45"/>
<circle cx="265.80" cy="477.70" r="2.85" fill="#fff" stroke="#1d1b1b" stroke-width="1.45"/>
<circle cx="273.10" cy="473.70" r="2.85" fill="#fff" stroke="#1d1b1b" stroke-width="1.45"/>
<circle cx="288.30" cy="465.40" r="2.85" fill="#fff" stroke="#1d1b1b" stroke-width="1.45"/>
<circle cx="288.30" cy="472.10" r="2.85" fill="#fff" stroke="#1d1b1b" stroke-width="1.45"/>
<circle cx="288.30" cy="487.90" r="2.85" fill="#fff" stroke="#1d1b1b" stroke-width="1.45"/>
<rect x="310.25" y="469.60" width="12.90" height="28.70" fill="#ffffff" stroke="#1d1b1b" stroke-width="1.5"/>
<rect x="330.25" y="470.40" width="12.50" height="27.90" fill="#a9cbeb" stroke="#1d1b1b" stroke-width="1.5"/>
<rect x="350.35" y="470.10" width="12.20" height="28.20" fill="#3a7ec6" stroke="#1d1b1b" stroke-width="1.5"/>
<circle cx="311.10" cy="468.60" r="2.85" fill="#fff" stroke="#1d1b1b" stroke-width="1.45"/>
<circle cx="316.70" cy="467.60" r="2.85" fill="#fff" stroke="#1d1b1b" stroke-width="1.45"/>
<circle cx="322.30" cy="468.60" r="2.85" fill="#fff" stroke="#1d1b1b" stroke-width="1.45"/>
<circle cx="330.30" cy="470.20" r="2.85" fill="#fff" stroke="#1d1b1b" stroke-width="1.45"/>
<circle cx="336.40" cy="467.00" r="2.85" fill="#fff" stroke="#1d1b1b" stroke-width="1.45"/>
<circle cx="341.90" cy="469.20" r="2.85" fill="#fff" stroke="#1d1b1b" stroke-width="1.45"/>
<circle cx="350.40" cy="469.70" r="2.85" fill="#fff" stroke="#1d1b1b" stroke-width="1.45"/>
<circle cx="356.30" cy="468.60" r="2.85" fill="#fff" stroke="#1d1b1b" stroke-width="1.45"/>
<circle cx="362.40" cy="468.60" r="2.85" fill="#fff" stroke="#1d1b1b" stroke-width="1.45"/>
<path d="M42.10 449.40H88.60" stroke="#1d1b1b" stroke-width="1.5" fill="none"/>
<text x="65.35" y="446.00" font-size="9.0" text-anchor="middle" fill="#222222">ns</text>
<path d="M109.20 449.40H155.70" stroke="#1d1b1b" stroke-width="1.5" fill="none"/>
<text x="132.45" y="446.00" font-size="9.0" text-anchor="middle" fill="#222222">ns</text>
<path d="M177.60 449.40H223.80" stroke="#1d1b1b" stroke-width="1.5" fill="none"/>
<text x="200.70" y="446.00" font-size="9.0" text-anchor="middle" fill="#222222">ns</text>
<path d="M245.30 449.40H291.50" stroke="#1d1b1b" stroke-width="1.5" fill="none"/>
<text x="268.40" y="446.00" font-size="9.0" text-anchor="middle" fill="#222222">ns</text>
<path d="M313.20 449.40H359.80" stroke="#1d1b1b" stroke-width="1.5" fill="none"/>
<text x="336.50" y="446.00" font-size="9.0" text-anchor="middle" fill="#222222">ns</text>
<text x="7.90" y="401.40" font-size="9.5" text-anchor="middle" fill="#222222" transform="rotate(-90 7.90 401.40)">PER ratio [Normalized to Ctrl]</text>
<text x="68.70" y="520.80" font-size="9.5" text-anchor="middle" fill="#222222">Basal PER</text>
<text x="131.50" y="520.80" font-size="9.5" text-anchor="middle" fill="#222222">Glycolytic PER</text>
<text x="199.70" y="515.20" font-size="9.5" text-anchor="middle" fill="#222222">Mitochondrial</text>
<text x="199.60" y="527.00" font-size="9.5" text-anchor="middle" fill="#222222">PER</text>
<text x="266.40" y="515.20" font-size="9.5" text-anchor="middle" fill="#222222">Compensatory</text>
<text x="266.50" y="527.00" font-size="9.5" text-anchor="middle" fill="#222222">Glycolysis</text>
<text x="312.50" y="515.20" font-size="9.5" text-anchor="start" fill="#222222">GlycoPER</text>
<text x="312.50" y="527.00" font-size="9.5" text-anchor="start" fill="#222222">/BasalPER</text>
<path d="M421.00 284.43V430.40M417.70 285.20H421.00M417.70 328.80H421.00M417.70 372.60H421.00M417.70 416.20H421.00" stroke="#1d1b1b" stroke-width="1.55" fill="none"/>
<text x="415.10" y="288.80" font-size="8.3" text-anchor="end" fill="#2e2e2e">1.5</text>
<text x="415.10" y="332.40" font-size="8.3" text-anchor="end" fill="#2e2e2e">1.2</text>
<text x="415.10" y="376.20" font-size="8.3" text-anchor="end" fill="#2e2e2e">0.9</text>
<text x="415.10" y="419.80" font-size="8.3" text-anchor="end" fill="#2e2e2e">0.6</text>
<path d="M420.23 430.40H685.00M435.60 430.40V434.40M454.35 430.40V434.40M473.30 430.40V434.40M502.45 430.40V434.40M521.35 430.40V434.40M540.80 430.40V434.40M569.10 430.40V434.40M587.80 430.40V434.40M606.95 430.40V434.40M632.65 430.40V434.40M651.45 430.40V434.40M670.10 430.40V434.40" stroke="#1d1b1b" stroke-width="1.55" fill="none"/>
<rect x="429.35" y="358.20" width="12.50" height="72.20" fill="#ffffff" stroke="#1d1b1b" stroke-width="1.5"/>
<rect x="448.15" y="348.90" width="12.40" height="81.50" fill="#f2b1b5" stroke="#1d1b1b" stroke-width="1.5"/>
<rect x="467.15" y="346.80" width="12.30" height="83.60" fill="#e8686e" stroke="#1d1b1b" stroke-width="1.5"/>
<path d="M435.60 358.30V356.60M432.00 356.60H439.20" stroke="#1d1b1b" stroke-width="1.5" fill="none"/>
<path d="M473.30 346.90V343.80M469.70 343.80H476.90" stroke="#1d1b1b" stroke-width="1.5" fill="none"/>
<circle cx="431.50" cy="363.10" r="2.85" fill="#fff" stroke="#1d1b1b" stroke-width="1.45"/>
<circle cx="435.40" cy="350.70" r="2.85" fill="#fff" stroke="#1d1b1b" stroke-width="1.45"/>
<circle cx="439.40" cy="360.00" r="2.85" fill="#fff" stroke="#1d1b1b" stroke-width="1.45"/>
<circle cx="449.10" cy="349.80" r="2.85" fill="#fff" stroke="#1d1b1b" stroke-width="1.45"/>
<circle cx="454.70" cy="345.20" r="2.85" fill="#fff" stroke="#1d1b1b" stroke-width="1.45"/>
<circle cx="460.10" cy="349.80" r="2.85" fill="#fff" stroke="#1d1b1b" stroke-width="1.45"/>
<circle cx="468.30" cy="341.00" r="2.85" fill="#fff" stroke="#1d1b1b" stroke-width="1.45"/>
<circle cx="478.90" cy="345.20" r="2.85" fill="#fff" stroke="#1d1b1b" stroke-width="1.45"/>
<circle cx="473.80" cy="352.70" r="2.85" fill="#fff" stroke="#1d1b1b" stroke-width="1.45"/>
<rect x="495.95" y="358.20" width="13.00" height="72.20" fill="#ffffff" stroke="#1d1b1b" stroke-width="1.5"/>
<rect x="515.05" y="374.10" width="12.60" height="56.30" fill="#f2b1b5" stroke="#1d1b1b" stroke-width="1.5"/>
<rect x="534.65" y="375.30" width="12.30" height="55.10" fill="#e8686e" stroke="#1d1b1b" stroke-width="1.5"/>
<path d="M502.45 358.30V349.80M498.85 349.80H506.05" stroke="#1d1b1b" stroke-width="1.5" fill="none"/>
<path d="M540.80 375.40V369.90M537.20 369.90H544.40" stroke="#1d1b1b" stroke-width="1.5" fill="none"/>
<circle cx="502.40" cy="345.50" r="2.85" fill="#fff" stroke="#1d1b1b" stroke-width="1.45"/>
<circle cx="502.40" cy="354.90" r="2.85" fill="#fff" stroke="#1d1b1b" stroke-width="1.45"/>
<circle cx="502.40" cy="372.50" r="2.85" fill="#fff" stroke="#1d1b1b" stroke-width="1.45"/>
<circle cx="517.70" cy="369.70" r="2.85" fill="#fff" stroke="#1d1b1b" stroke-width="1.45"/>
<circle cx="517.70" cy="377.90" r="2.85" fill="#fff" stroke="#1d1b1b" stroke-width="1.45"/>
<circle cx="525.50" cy="373.10" r="2.85" fill="#fff" stroke="#1d1b1b" stroke-width="1.45"/>
<circle cx="540.80" cy="364.60" r="2.85" fill="#fff" stroke="#1d1b1b" stroke-width="1.45"/>
<circle cx="537.00" cy="381.30" r="2.85" fill="#fff" stroke="#1d1b1b" stroke-width="1.45"/>
<circle cx="544.60" cy="379.30" r="2.85" fill="#fff" stroke="#1d1b1b" stroke-width="1.45"/>
<rect x="562.95" y="359.10" width="12.30" height="71.30" fill="#ffffff" stroke="#1d1b1b" stroke-width="1.5"/>
<rect x="581.85" y="383.30" width="11.90" height="47.10" fill="#f2b1b5" stroke="#1d1b1b" stroke-width="1.5"/>
<rect x="600.85" y="384.60" width="12.20" height="45.80" fill="#e8686e" stroke="#1d1b1b" stroke-width="1.5"/>
<path d="M569.10 359.20V347.30M565.50 347.30H572.70" stroke="#1d1b1b" stroke-width="1.5" fill="none"/>
<path d="M606.95 384.70V377.90M603.35 377.90H610.55" stroke="#1d1b1b" stroke-width="1.5" fill="none"/>
<circle cx="569.10" cy="341.30" r="2.85" fill="#fff" stroke="#1d1b1b" stroke-width="1.45"/>
<circle cx="569.10" cy="355.30" r="2.85" fill="#fff" stroke="#1d1b1b" stroke-width="1.45"/>
<circle cx="569.10" cy="379.30" r="2.85" fill="#fff" stroke="#1d1b1b" stroke-width="1.45"/>
<circle cx="583.60" cy="377.90" r="2.85" fill="#fff" stroke="#1d1b1b" stroke-width="1.45"/>
<circle cx="591.30" cy="380.50" r="2.85" fill="#fff" stroke="#1d1b1b" stroke-width="1.45"/>
<circle cx="587.40" cy="388.50" r="2.85" fill="#fff" stroke="#1d1b1b" stroke-width="1.45"/>
<circle cx="607.00" cy="370.80" r="2.85" fill="#fff" stroke="#1d1b1b" stroke-width="1.45"/>
<circle cx="603.20" cy="393.20" r="2.85" fill="#fff" stroke="#1d1b1b" stroke-width="1.45"/>
<circle cx="610.40" cy="389.00" r="2.85" fill="#fff" stroke="#1d1b1b" stroke-width="1.45"/>
<rect x="626.35" y="358.20" width="12.60" height="72.20" fill="#ffffff" stroke="#1d1b1b" stroke-width="1.5"/>
<rect x="645.25" y="358.70" width="12.40" height="71.70" fill="#f2b1b5" stroke="#1d1b1b" stroke-width="1.5"/>
<rect x="664.25" y="360.80" width="11.70" height="69.60" fill="#e8686e" stroke="#1d1b1b" stroke-width="1.5"/>
<path d="M651.45 358.80V351.50M647.85 351.50H655.05" stroke="#1d1b1b" stroke-width="1.5" fill="none"/>
<path d="M670.10 360.90V356.60M666.50 356.60H673.70" stroke="#1d1b1b" stroke-width="1.5" fill="none"/>
<circle cx="628.30" cy="355.40" r="2.85" fill="#fff" stroke="#1d1b1b" stroke-width="1.45"/>
<circle cx="628.30" cy="363.40" r="2.85" fill="#fff" stroke="#1d1b1b" stroke-width="1.45"/>
<circle cx="636.30" cy="358.30" r="2.85" fill="#fff" stroke="#1d1b1b" stroke-width="1.45"/>
<circle cx="651.50" cy="349.00" r="2.85" fill="#fff" stroke="#1d1b1b" stroke-width="1.45"/>
<circle cx="651.50" cy="355.40" r="2.85" fill="#fff" stroke="#1d1b1b" stroke-width="1.45"/>
<circle cx="651.50" cy="369.90" r="2.85" fill="#fff" stroke="#1d1b1b" stroke-width="1.45"/>
<circle cx="666.10" cy="355.30" r="2.85" fill="#fff" stroke="#1d1b1b" stroke-width="1.45"/>
<circle cx="675.50" cy="356.30" r="2.85" fill="#fff" stroke="#1d1b1b" stroke-width="1.45"/>
<circle cx="669.80" cy="369.10" r="2.85" fill="#fff" stroke="#1d1b1b" stroke-width="1.45"/>
<path d="M431.90 315.50V293.80H477.50V315.50M431.90 306.30H477.50M454.60 306.30V315.50" stroke="#1d1b1b" stroke-width="1.5" fill="none"/>
<path d="M452.30 286.70 L452.96 288.49 L454.87 288.57 L453.37 289.75 L453.89 291.58 L452.30 290.52 L450.71 291.58 L451.23 289.75 L449.73 288.57 L451.64 288.49Z" fill="#222222"/>
<path d="M456.90 286.70 L457.56 288.49 L459.47 288.57 L457.97 289.75 L458.49 291.58 L456.90 290.52 L455.31 291.58 L455.83 289.75 L454.33 288.57 L456.24 288.49Z" fill="#222222"/>
<path d="M443.25 298.60 L443.91 300.39 L445.82 300.47 L444.32 301.65 L444.84 303.48 L443.25 302.42 L441.66 303.48 L442.18 301.65 L440.68 300.47 L442.59 300.39Z" fill="#222222"/>
<text x="466.05" y="302.90" font-size="9.0" text-anchor="middle" fill="#222222">ns</text>
<path d="M499.10 315.50V293.80H544.10V315.50M499.10 306.30H544.10M521.30 306.30V315.50" stroke="#1d1b1b" stroke-width="1.5" fill="none"/>
<path d="M519.00 286.70 L519.66 288.49 L521.57 288.57 L520.07 289.75 L520.59 291.58 L519.00 290.52 L517.41 291.58 L517.93 289.75 L516.43 288.57 L518.34 288.49Z" fill="#222222"/>
<path d="M523.60 286.70 L524.26 288.49 L526.17 288.57 L524.67 289.75 L525.19 291.58 L523.60 290.52 L522.01 291.58 L522.53 289.75 L521.03 288.57 L522.94 288.49Z" fill="#222222"/>
<path d="M507.90 298.60 L508.56 300.39 L510.47 300.47 L508.97 301.65 L509.49 303.48 L507.90 302.42 L506.31 303.48 L506.83 301.65 L505.33 300.47 L507.24 300.39Z" fill="#222222"/>
<path d="M512.50 298.60 L513.16 300.39 L515.07 300.47 L513.57 301.65 L514.09 303.48 L512.50 302.42 L510.91 303.48 L511.43 301.65 L509.93 300.47 L511.84 300.39Z" fill="#222222"/>
<text x="532.70" y="302.90" font-size="9.0" text-anchor="middle" fill="#222222">ns</text>
<path d="M565.40 315.50V293.80H610.10V315.50M565.40 306.30H610.10M587.60 306.30V315.50" stroke="#1d1b1b" stroke-width="1.5" fill="none"/>
<path d="M585.30 286.70 L585.96 288.49 L587.87 288.57 L586.37 289.75 L586.89 291.58 L585.30 290.52 L583.71 291.58 L584.23 289.75 L582.73 288.57 L584.64 288.49Z" fill="#222222"/>
<path d="M589.90 286.70 L590.56 288.49 L592.47 288.57 L590.97 289.75 L591.49 291.58 L589.90 290.52 L588.31 291.58 L588.83 289.75 L587.33 288.57 L589.24 288.49Z" fill="#222222"/>
<path d="M574.20 298.60 L574.86 300.39 L576.77 300.47 L575.27 301.65 L575.79 303.48 L574.20 302.42 L572.61 303.48 L573.13 301.65 L571.63 300.47 L573.54 300.39Z" fill="#222222"/>
<path d="M578.80 298.60 L579.46 300.39 L581.37 300.47 L579.87 301.65 L580.39 303.48 L578.80 302.42 L577.21 303.48 L577.73 301.65 L576.23 300.47 L578.14 300.39Z" fill="#222222"/>
<text x="598.85" y="302.90" font-size="9.0" text-anchor="middle" fill="#222222">ns</text>
<path d="M628.90 315.50V293.80H674.20V315.50M628.90 306.30H674.20M651.40 306.30V315.50" stroke="#1d1b1b" stroke-width="1.5" fill="none"/>
<text x="651.40" y="290.40" font-size="9.0" text-anchor="middle" fill="#222222">ns</text>
<text x="640.15" y="302.90" font-size="9.0" text-anchor="middle" fill="#222222">ns</text>
<text x="662.80" y="302.90" font-size="9.0" text-anchor="middle" fill="#222222">ns</text>
<path d="M420.40 438.93V499.00M416.00 439.70H420.40M416.00 457.50H420.40M416.00 475.30H420.40M416.00 493.10H420.40" stroke="#1d1b1b" stroke-width="1.55" fill="none"/>
<text x="414.90" y="443.30" font-size="8.3" text-anchor="end" fill="#2e2e2e">1.5</text>
<text x="414.90" y="461.10" font-size="8.3" text-anchor="end" fill="#2e2e2e">1.2</text>
<text x="414.90" y="478.90" font-size="8.3" text-anchor="end" fill="#2e2e2e">0.9</text>
<text x="414.90" y="496.70" font-size="8.3" text-anchor="end" fill="#2e2e2e">0.6</text>
<path d="M419.62 499.00H685.00M434.70 499.00V505.00M454.70 499.00V505.00M474.60 499.00V505.00M501.70 499.00V505.00M521.60 499.00V505.00M541.00 499.00V505.00M567.30 499.00V505.00M586.90 499.00V505.00M606.60 499.00V505.00M632.40 499.00V505.00M652.20 499.00V505.00M670.20 499.00V505.00" stroke="#1d1b1b" stroke-width="1.55" fill="none"/>
<rect x="429.35" y="470.00" width="12.30" height="29.00" fill="#ffffff" stroke="#1d1b1b" stroke-width="1.5"/>
<rect x="448.65" y="469.30" width="12.10" height="29.70" fill="#a9cbeb" stroke="#1d1b1b" stroke-width="1.5"/>
<rect x="467.65" y="469.30" width="12.80" height="29.70" fill="#3a7ec6" stroke="#1d1b1b" stroke-width="1.5"/>
<circle cx="431.50" cy="471.20" r="2.85" fill="#fff" stroke="#1d1b1b" stroke-width="1.45"/>
<circle cx="435.40" cy="465.70" r="2.85" fill="#fff" stroke="#1d1b1b" stroke-width="1.45"/>
<circle cx="439.10" cy="470.50" r="2.85" fill="#fff" stroke="#1d1b1b" stroke-width="1.45"/>
<circle cx="450.50" cy="473.40" r="2.85" fill="#fff" stroke="#1d1b1b" stroke-width="1.45"/>
<circle cx="454.90" cy="463.30" r="2.85" fill="#fff" stroke="#1d1b1b" stroke-width="1.45"/>
<circle cx="459.30" cy="469.40" r="2.85" fill="#fff" stroke="#1d1b1b" stroke-width="1.45"/>
<circle cx="468.70" cy="469.00" r="2.85" fill="#fff" stroke="#1d1b1b" stroke-width="1.45"/>
<circle cx="474.60" cy="467.70" r="2.85" fill="#fff" stroke="#1d1b1b" stroke-width="1.45"/>
<circle cx="480.30" cy="468.80" r="2.85" fill="#fff" stroke="#1d1b1b" stroke-width="1.45"/>
<rect x="495.05" y="469.30" width="12.90" height="29.70" fill="#ffffff" stroke="#1d1b1b" stroke-width="1.5"/>
<rect x="514.75" y="471.10" width="13.00" height="27.90" fill="#a9cbeb" stroke="#1d1b1b" stroke-width="1.5"/>
<rect x="535.05" y="471.50" width="12.60" height="27.50" fill="#3a7ec6" stroke="#1d1b1b" stroke-width="1.5"/>
<path d="M521.25 471.20V465.00M517.65 465.00H524.85" stroke="#1d1b1b" stroke-width="1.5" fill="none"/>
<circle cx="497.60" cy="465.70" r="2.85" fill="#fff" stroke="#1d1b1b" stroke-width="1.45"/>
<circle cx="505.90" cy="466.60" r="2.85" fill="#fff" stroke="#1d1b1b" stroke-width="1.45"/>
<circle cx="502.00" cy="475.30" r="2.85" fill="#fff" stroke="#1d1b1b" stroke-width="1.45"/>
<circle cx="521.30" cy="461.30" r="2.85" fill="#fff" stroke="#1d1b1b" stroke-width="1.45"/>
<circle cx="521.30" cy="469.40" r="2.85" fill="#fff" stroke="#1d1b1b" stroke-width="1.45"/>
<circle cx="521.30" cy="481.00" r="2.85" fill="#fff" stroke="#1d1b1b" stroke-width="1.45"/>
<circle cx="535.50" cy="472.50" r="2.85" fill="#fff" stroke="#1d1b1b" stroke-width="1.45"/>
<circle cx="541.40" cy="470.20" r="2.85" fill="#fff" stroke="#1d1b1b" stroke-width="1.45"/>
<circle cx="547.20" cy="471.60" r="2.85" fill="#fff" stroke="#1d1b1b" stroke-width="1.45"/>
<rect x="561.25" y="470.10" width="12.80" height="28.90" fill="#ffffff" stroke="#1d1b1b" stroke-width="1.5"/>
<rect x="580.65" y="470.80" width="13.00" height="28.20" fill="#a9cbeb" stroke="#1d1b1b" stroke-width="1.5"/>
<rect x="600.45" y="472.60" width="12.60" height="26.40" fill="#3a7ec6" stroke="#1d1b1b" stroke-width="1.5"/>
<path d="M587.15 470.90V461.50M583.55 461.50H590.75" stroke="#1d1b1b" stroke-width="1.5" fill="none"/>
<circle cx="562.40" cy="464.60" r="2.85" fill="#fff" stroke="#1d1b1b" stroke-width="1.45"/>
<circle cx="572.90" cy="465.50" r="2.85" fill="#fff" stroke="#1d1b1b" stroke-width="1.45"/>
<circle cx="568.20" cy="478.40" r="2.85" fill="#fff" stroke="#1d1b1b" stroke-width="1.45"/>
<circle cx="587.10" cy="456.20" r="2.85" fill="#fff" stroke="#1d1b1b" stroke-width="1.45"/>
<circle cx="587.10" cy="469.00" r="2.85" fill="#fff" stroke="#1d1b1b" stroke-width="1.45"/>
<circle cx="587.10" cy="485.40" r="2.85" fill="#fff" stroke="#1d1b1b" stroke-width="1.45"/>
<circle cx="602.10" cy="473.70" r="2.85" fill="#fff" stroke="#1d1b1b" stroke-width="1.45"/>
<circle cx="606.80" cy="469.70" r="2.85" fill="#fff" stroke="#1d1b1b" stroke-width="1.45"/>
<circle cx="611.90" cy="471.30" r="2.85" fill="#fff" stroke="#1d1b1b" stroke-width="1.45"/>
<rect x="626.65" y="470.10" width="12.50" height="28.90" fill="#ffffff" stroke="#1d1b1b" stroke-width="1.5"/>
<rect x="646.05" y="472.40" width="12.50" height="26.60" fill="#a9cbeb" stroke="#1d1b1b" stroke-width="1.5"/>
<rect x="664.75" y="471.90" width="11.80" height="27.10" fill="#3a7ec6" stroke="#1d1b1b" stroke-width="1.5"/>
<path d="M670.65 472.00V466.90M667.05 466.90H674.25" stroke="#1d1b1b" stroke-width="1.5" fill="none"/>
<circle cx="627.80" cy="471.60" r="2.85" fill="#fff" stroke="#1d1b1b" stroke-width="1.45"/>
<circle cx="632.50" cy="467.40" r="2.85" fill="#fff" stroke="#1d1b1b" stroke-width="1.45"/>
<circle cx="637.60" cy="469.00" r="2.85" fill="#fff" stroke="#1d1b1b" stroke-width="1.45"/>
<circle cx="647.60" cy="475.50" r="2.85" fill="#fff" stroke="#1d1b1b" stroke-width="1.45"/>
<circle cx="652.30" cy="466.70" r="2.85" fill="#fff" stroke="#1d1b1b" stroke-width="1.45"/>
<circle cx="656.50" cy="473.90" r="2.85" fill="#fff" stroke="#1d1b1b" stroke-width="1.45"/>
<circle cx="670.60" cy="463.40" r="2.85" fill="#fff" stroke="#1d1b1b" stroke-width="1.45"/>
<circle cx="670.60" cy="470.20" r="2.85" fill="#fff" stroke="#1d1b1b" stroke-width="1.45"/>
<circle cx="670.60" cy="480.90" r="2.85" fill="#fff" stroke="#1d1b1b" stroke-width="1.45"/>
<path d="M431.90 449.30H478.50" stroke="#1d1b1b" stroke-width="1.5" fill="none"/>
<text x="455.20" y="445.90" font-size="9.0" text-anchor="middle" fill="#222222">ns</text>
<path d="M498.20 449.30H544.20" stroke="#1d1b1b" stroke-width="1.5" fill="none"/>
<text x="521.20" y="445.90" font-size="9.0" text-anchor="middle" fill="#222222">ns</text>
<path d="M563.50 449.30H610.30" stroke="#1d1b1b" stroke-width="1.5" fill="none"/>
<text x="586.90" y="445.90" font-size="9.0" text-anchor="middle" fill="#222222">ns</text>
<path d="M628.20 449.30H674.50" stroke="#1d1b1b" stroke-width="1.5" fill="none"/>
<text x="651.35" y="445.90" font-size="9.0" text-anchor="middle" fill="#222222">ns</text>
<text x="387.90" y="388.40" font-size="9.5" text-anchor="middle" fill="#222222" transform="rotate(-90 387.90 388.40)">ATP production rate ratio</text>
<text x="399.50" y="389.00" font-size="9.5" text-anchor="middle" fill="#222222" transform="rotate(-90 399.50 389.00)">[Nomalized to Ctrl]</text>
<text x="455.00" y="520.50" font-size="9.5" text-anchor="middle" fill="#222222">% Glycolysis</text>
<text x="522.00" y="520.50" font-size="9.5" text-anchor="middle" fill="#222222">% OXPHOS</text>
<text x="587.00" y="514.90" font-size="9.5" text-anchor="middle" fill="#222222">mitoATP</text>
<text x="586.50" y="525.80" font-size="9.5" text-anchor="middle" fill="#222222">/glycoATP</text>
<text x="652.80" y="520.20" font-size="9.5" text-anchor="middle" fill="#222222">Total ATP</text>
<path d="M40.20 558.73V677.60M36.70 559.50H40.20M36.70 598.90H40.20M36.70 638.20H40.20M36.70 677.60H40.20" stroke="#1d1b1b" stroke-width="1.55" fill="none"/>
<text x="35.10" y="562.30" font-size="8.3" text-anchor="end" fill="#2e2e2e">1.5</text>
<text x="35.10" y="601.70" font-size="8.3" text-anchor="end" fill="#2e2e2e">1.0</text>
<text x="35.10" y="641.00" font-size="8.3" text-anchor="end" fill="#2e2e2e">0.5</text>
<text x="35.10" y="680.40" font-size="8.3" text-anchor="end" fill="#2e2e2e">0.0</text>
<path d="M39.43 677.60H343.90M54.75 677.60V681.60M73.70 677.60V681.60M103.75 677.60V681.60M122.95 677.60V681.60M155.35 677.60V681.60M174.85 677.60V681.60M204.90 677.60V681.60M224.10 677.60V681.60M258.45 677.60V681.60M277.60 677.60V681.60M307.65 677.60V681.60M326.90 677.60V681.60" stroke="#1d1b1b" stroke-width="1.55" fill="none"/>
<rect x="47.00" y="599.80" width="15.50" height="77.80" fill="#f2b1b5" stroke="#1d1b1b" stroke-width="1.5"/>
<clipPath id="hc1"><rect x="66.20" y="600.60" width="15.00" height="77.00"/></clipPath>
<rect x="66.20" y="600.60" width="15.00" height="77.00" fill="#f2b1b5"/>
<path d="M65.20 696.67L82.20 676.41M65.20 692.27L82.20 672.01M65.20 687.87L82.20 667.61M65.20 683.47L82.20 663.21M65.20 679.07L82.20 658.81M65.20 674.67L82.20 654.41M65.20 670.27L82.20 650.01M65.20 665.87L82.20 645.61M65.20 661.47L82.20 641.21M65.20 657.07L82.20 636.81M65.20 652.67L82.20 632.41M65.20 648.27L82.20 628.01M65.20 643.87L82.20 623.61M65.20 639.47L82.20 619.21M65.20 635.07L82.20 614.81M65.20 630.67L82.20 610.41M65.20 626.27L82.20 606.01M65.20 621.87L82.20 601.61M65.20 617.47L82.20 597.21M65.20 613.07L82.20 592.81M65.20 608.67L82.20 588.41M65.20 604.27L82.20 584.01" stroke="#fff" stroke-width="1.15" clip-path="url(#hc1)" fill="none"/>
<rect x="66.20" y="600.60" width="15.00" height="77.00" fill="none" stroke="#1d1b1b" stroke-width="1.5"/>
<path d="M54.75 599.90V591.20M51.15 591.20H58.35" stroke="#1d1b1b" stroke-width="1.5" fill="none"/>
<path d="M73.70 600.70V599.20M70.10 599.20H77.30" stroke="#1d1b1b" stroke-width="1.5" fill="none"/>
<circle cx="55.30" cy="584.20" r="2.85" fill="#fff" stroke="#1d1b1b" stroke-width="1.45"/>
<circle cx="55.30" cy="601.40" r="2.85" fill="#fff" stroke="#1d1b1b" stroke-width="1.45"/>
<circle cx="55.30" cy="612.80" r="2.85" fill="#fff" stroke="#1d1b1b" stroke-width="1.45"/>
<circle cx="68.90" cy="596.70" r="2.85" fill="#fff" stroke="#1d1b1b" stroke-width="1.45"/>
<circle cx="68.90" cy="604.00" r="2.85" fill="#fff" stroke="#1d1b1b" stroke-width="1.45"/>
<circle cx="78.70" cy="599.20" r="2.85" fill="#fff" stroke="#1d1b1b" stroke-width="1.45"/>
<rect x="95.90" y="599.50" width="15.70" height="78.10" fill="#f2b1b5" stroke="#1d1b1b" stroke-width="1.5"/>
<clipPath id="hc2"><rect x="115.10" y="600.60" width="15.70" height="77.00"/></clipPath>
<rect x="115.10" y="600.60" width="15.70" height="77.00" fill="#f2b1b5"/>
<path d="M114.10 697.50L131.80 676.41M114.10 693.10L131.80 672.01M114.10 688.70L131.80 667.61M114.10 684.30L131.80 663.21M114.10 679.90L131.80 658.81M114.10 675.50L131.80 654.41M114.10 671.10L131.80 650.01M114.10 666.70L131.80 645.61M114.10 662.30L131.80 641.21M114.10 657.90L131.80 636.81M114.10 653.50L131.80 632.41M114.10 649.10L131.80 628.01M114.10 644.70L131.80 623.61M114.10 640.30L131.80 619.21M114.10 635.90L131.80 614.81M114.10 631.50L131.80 610.41M114.10 627.10L131.80 606.01M114.10 622.70L131.80 601.61M114.10 618.30L131.80 597.21M114.10 613.90L131.80 592.81M114.10 609.50L131.80 588.41M114.10 605.10L131.80 584.01" stroke="#fff" stroke-width="1.15" clip-path="url(#hc2)" fill="none"/>
<rect x="115.10" y="600.60" width="15.70" height="77.00" fill="none" stroke="#1d1b1b" stroke-width="1.5"/>
<path d="M103.75 599.60V592.90M100.15 592.90H107.35" stroke="#1d1b1b" stroke-width="1.5" fill="none"/>
<circle cx="103.80" cy="588.50" r="2.85" fill="#fff" stroke="#1d1b1b" stroke-width="1.45"/>
<circle cx="103.80" cy="599.20" r="2.85" fill="#fff" stroke="#1d1b1b" stroke-width="1.45"/>
<circle cx="103.80" cy="608.70" r="2.85" fill="#fff" stroke="#1d1b1b" stroke-width="1.45"/>
<circle cx="118.10" cy="596.00" r="2.85" fill="#fff" stroke="#1d1b1b" stroke-width="1.45"/>
<circle cx="118.10" cy="602.80" r="2.85" fill="#fff" stroke="#1d1b1b" stroke-width="1.45"/>
<circle cx="127.90" cy="599.90" r="2.85" fill="#fff" stroke="#1d1b1b" stroke-width="1.45"/>
<rect x="147.50" y="599.70" width="15.70" height="77.90" fill="#f2b1b5" stroke="#1d1b1b" stroke-width="1.5"/>
<clipPath id="hc3"><rect x="167.40" y="600.20" width="14.90" height="77.40"/></clipPath>
<rect x="167.40" y="600.20" width="14.90" height="77.40" fill="#f2b1b5"/>
<path d="M166.40 696.55L183.30 676.41M166.40 692.15L183.30 672.01M166.40 687.75L183.30 667.61M166.40 683.35L183.30 663.21M166.40 678.95L183.30 658.81M166.40 674.55L183.30 654.41M166.40 670.15L183.30 650.01M166.40 665.75L183.30 645.61M166.40 661.35L183.30 641.21M166.40 656.95L183.30 636.81M166.40 652.55L183.30 632.41M166.40 648.15L183.30 628.01M166.40 643.75L183.30 623.61M166.40 639.35L183.30 619.21M166.40 634.95L183.30 614.81M166.40 630.55L183.30 610.41M166.40 626.15L183.30 606.01M166.40 621.75L183.30 601.61M166.40 617.35L183.30 597.21M166.40 612.95L183.30 592.81M166.40 608.55L183.30 588.41M166.40 604.15L183.30 584.01" stroke="#fff" stroke-width="1.15" clip-path="url(#hc3)" fill="none"/>
<rect x="167.40" y="600.20" width="14.90" height="77.40" fill="none" stroke="#1d1b1b" stroke-width="1.5"/>
<path d="M155.35 599.80V590.70M151.75 590.70H158.95" stroke="#1d1b1b" stroke-width="1.5" fill="none"/>
<circle cx="155.40" cy="584.10" r="2.85" fill="#fff" stroke="#1d1b1b" stroke-width="1.45"/>
<circle cx="155.40" cy="601.20" r="2.85" fill="#fff" stroke="#1d1b1b" stroke-width="1.45"/>
<circle cx="155.40" cy="612.60" r="2.85" fill="#fff" stroke="#1d1b1b" stroke-width="1.45"/>
<circle cx="169.90" cy="596.90" r="2.85" fill="#fff" stroke="#1d1b1b" stroke-width="1.45"/>
<circle cx="169.90" cy="603.20" r="2.85" fill="#fff" stroke="#1d1b1b" stroke-width="1.45"/>
<circle cx="179.30" cy="598.90" r="2.85" fill="#fff" stroke="#1d1b1b" stroke-width="1.45"/>
<rect x="196.80" y="599.10" width="16.20" height="78.50" fill="#f2b1b5" stroke="#1d1b1b" stroke-width="1.5"/>
<clipPath id="hc4"><rect x="216.70" y="604.80" width="14.80" height="72.80"/></clipPath>
<rect x="216.70" y="604.80" width="14.80" height="72.80" fill="#f2b1b5"/>
<path d="M215.70 696.43L232.50 676.41M215.70 692.03L232.50 672.01M215.70 687.63L232.50 667.61M215.70 683.23L232.50 663.21M215.70 678.83L232.50 658.81M215.70 674.43L232.50 654.41M215.70 670.03L232.50 650.01M215.70 665.63L232.50 645.61M215.70 661.23L232.50 641.21M215.70 656.83L232.50 636.81M215.70 652.43L232.50 632.41M215.70 648.03L232.50 628.01M215.70 643.63L232.50 623.61M215.70 639.23L232.50 619.21M215.70 634.83L232.50 614.81M215.70 630.43L232.50 610.41M215.70 626.03L232.50 606.01M215.70 621.63L232.50 601.61M215.70 617.23L232.50 597.21M215.70 612.83L232.50 592.81M215.70 608.43L232.50 588.41" stroke="#fff" stroke-width="1.15" clip-path="url(#hc4)" fill="none"/>
<rect x="216.70" y="604.80" width="14.80" height="72.80" fill="none" stroke="#1d1b1b" stroke-width="1.5"/>
<path d="M204.90 599.20V591.20M201.30 591.20H208.50" stroke="#1d1b1b" stroke-width="1.5" fill="none"/>
<path d="M224.10 604.90V594.10M220.50 594.10H227.70" stroke="#1d1b1b" stroke-width="1.5" fill="none"/>
<circle cx="204.90" cy="584.10" r="2.85" fill="#fff" stroke="#1d1b1b" stroke-width="1.45"/>
<circle cx="204.90" cy="601.20" r="2.85" fill="#fff" stroke="#1d1b1b" stroke-width="1.45"/>
<circle cx="204.90" cy="611.20" r="2.85" fill="#fff" stroke="#1d1b1b" stroke-width="1.45"/>
<circle cx="224.00" cy="584.10" r="2.85" fill="#fff" stroke="#1d1b1b" stroke-width="1.45"/>
<circle cx="219.70" cy="615.40" r="2.85" fill="#fff" stroke="#1d1b1b" stroke-width="1.45"/>
<circle cx="229.10" cy="613.40" r="2.85" fill="#fff" stroke="#1d1b1b" stroke-width="1.45"/>
<rect x="250.60" y="599.70" width="15.70" height="77.90" fill="#f2b1b5" stroke="#1d1b1b" stroke-width="1.5"/>
<clipPath id="hc5"><rect x="269.90" y="598.30" width="15.40" height="79.30"/></clipPath>
<rect x="269.90" y="598.30" width="15.40" height="79.30" fill="#f2b1b5"/>
<path d="M268.90 697.14L286.30 676.41M268.90 692.74L286.30 672.01M268.90 688.34L286.30 667.61M268.90 683.94L286.30 663.21M268.90 679.54L286.30 658.81M268.90 675.14L286.30 654.41M268.90 670.74L286.30 650.01M268.90 666.34L286.30 645.61M268.90 661.94L286.30 641.21M268.90 657.54L286.30 636.81M268.90 653.14L286.30 632.41M268.90 648.74L286.30 628.01M268.90 644.34L286.30 623.61M268.90 639.94L286.30 619.21M268.90 635.54L286.30 614.81M268.90 631.14L286.30 610.41M268.90 626.74L286.30 606.01M268.90 622.34L286.30 601.61M268.90 617.94L286.30 597.21M268.90 613.54L286.30 592.81M268.90 609.14L286.30 588.41M268.90 604.74L286.30 584.01M268.90 600.34L286.30 579.61" stroke="#fff" stroke-width="1.15" clip-path="url(#hc5)" fill="none"/>
<rect x="269.90" y="598.30" width="15.40" height="79.30" fill="none" stroke="#1d1b1b" stroke-width="1.5"/>
<circle cx="255.30" cy="593.50" r="2.85" fill="#fff" stroke="#1d1b1b" stroke-width="1.45"/>
<circle cx="262.40" cy="596.90" r="2.85" fill="#fff" stroke="#1d1b1b" stroke-width="1.45"/>
<circle cx="259.60" cy="607.70" r="2.85" fill="#fff" stroke="#1d1b1b" stroke-width="1.45"/>
<circle cx="273.80" cy="591.20" r="2.85" fill="#fff" stroke="#1d1b1b" stroke-width="1.45"/>
<circle cx="281.50" cy="593.50" r="2.85" fill="#fff" stroke="#1d1b1b" stroke-width="1.45"/>
<circle cx="278.10" cy="608.30" r="2.85" fill="#fff" stroke="#1d1b1b" stroke-width="1.45"/>
<rect x="299.80" y="600.20" width="15.70" height="77.40" fill="#f2b1b5" stroke="#1d1b1b" stroke-width="1.5"/>
<clipPath id="hc6"><rect x="319.20" y="603.90" width="15.40" height="73.70"/></clipPath>
<rect x="319.20" y="603.90" width="15.40" height="73.70" fill="#f2b1b5"/>
<path d="M318.20 697.14L335.60 676.41M318.20 692.74L335.60 672.01M318.20 688.34L335.60 667.61M318.20 683.94L335.60 663.21M318.20 679.54L335.60 658.81M318.20 675.14L335.60 654.41M318.20 670.74L335.60 650.01M318.20 666.34L335.60 645.61M318.20 661.94L335.60 641.21M318.20 657.54L335.60 636.81M318.20 653.14L335.60 632.41M318.20 648.74L335.60 628.01M318.20 644.34L335.60 623.61M318.20 639.94L335.60 619.21M318.20 635.54L335.60 614.81M318.20 631.14L335.60 610.41M318.20 626.74L335.60 606.01M318.20 622.34L335.60 601.61M318.20 617.94L335.60 597.21M318.20 613.54L335.60 592.81M318.20 609.14L335.60 588.41M318.20 604.74L335.60 584.01" stroke="#fff" stroke-width="1.15" clip-path="url(#hc6)" fill="none"/>
<rect x="319.20" y="603.90" width="15.40" height="73.70" fill="none" stroke="#1d1b1b" stroke-width="1.5"/>
<path d="M307.65 600.30V591.80M304.05 591.80H311.25" stroke="#1d1b1b" stroke-width="1.5" fill="none"/>
<path d="M326.90 604.00V593.50M323.30 593.50H330.50" stroke="#1d1b1b" stroke-width="1.5" fill="none"/>
<circle cx="308.00" cy="584.70" r="2.85" fill="#fff" stroke="#1d1b1b" stroke-width="1.45"/>
<circle cx="311.60" cy="604.00" r="2.85" fill="#fff" stroke="#1d1b1b" stroke-width="1.45"/>
<circle cx="304.20" cy="609.70" r="2.85" fill="#fff" stroke="#1d1b1b" stroke-width="1.45"/>
<circle cx="327.00" cy="584.10" r="2.85" fill="#fff" stroke="#1d1b1b" stroke-width="1.45"/>
<circle cx="323.00" cy="614.60" r="2.85" fill="#fff" stroke="#1d1b1b" stroke-width="1.45"/>
<circle cx="330.70" cy="612.60" r="2.85" fill="#fff" stroke="#1d1b1b" stroke-width="1.45"/>
<path d="M45.90 570.60H82.40" stroke="#1d1b1b" stroke-width="1.5" fill="none"/>
<text x="64.15" y="567.20" font-size="9.0" text-anchor="middle" fill="#222222">ns</text>
<path d="M95.00 570.60H131.50" stroke="#1d1b1b" stroke-width="1.5" fill="none"/>
<text x="113.25" y="567.20" font-size="9.0" text-anchor="middle" fill="#222222">ns</text>
<path d="M146.30 570.60H182.70" stroke="#1d1b1b" stroke-width="1.5" fill="none"/>
<text x="164.50" y="567.20" font-size="9.0" text-anchor="middle" fill="#222222">ns</text>
<path d="M196.40 570.60H232.50" stroke="#1d1b1b" stroke-width="1.5" fill="none"/>
<text x="214.45" y="567.20" font-size="9.0" text-anchor="middle" fill="#222222">ns</text>
<path d="M250.20 570.60H286.00" stroke="#1d1b1b" stroke-width="1.5" fill="none"/>
<text x="268.10" y="567.20" font-size="9.0" text-anchor="middle" fill="#222222">ns</text>
<path d="M298.80 570.60H335.20" stroke="#1d1b1b" stroke-width="1.5" fill="none"/>
<text x="317.00" y="567.20" font-size="9.0" text-anchor="middle" fill="#222222">ns</text>
<rect x="41.7" y="544.4" width="9.0" height="8.0" fill="#f2b1b5" stroke="#1d1b1b" stroke-width="1.3"/>
<rect x="87.0" y="544.4" width="9.0" height="8.0" fill="url(#hatch2)" stroke="#1d1b1b" stroke-width="1.3"/>
<text x="54.60" y="552.20" font-size="9.5" text-anchor="start" fill="#222222">Li-R</text>
<text x="99.40" y="552.20" font-size="9.5" text-anchor="start" fill="#222222">Li-R+Li</text>
<text x="8.30" y="618.50" font-size="9.5" text-anchor="middle" fill="#222222" transform="rotate(-90 8.30 618.50)">Relative ratios</text>
<text x="20.00" y="619.00" font-size="9.5" text-anchor="middle" fill="#222222" transform="rotate(-90 20.00 619.00)">[Normalized to Li-R]</text>
<text x="62.70" y="691.00" font-size="9.5" text-anchor="middle" fill="#222222">Basal</text>
<text x="62.80" y="701.50" font-size="9.5" text-anchor="middle" fill="#222222">Respiration</text>
<text x="113.00" y="691.00" font-size="9.5" text-anchor="middle" fill="#222222">ATP</text>
<text x="113.30" y="701.50" font-size="9.5" text-anchor="middle" fill="#222222">Production</text>
<text x="163.70" y="698.00" font-size="9.5" text-anchor="middle" fill="#222222">MitoPER</text>
<text x="213.30" y="698.00" font-size="9.5" text-anchor="middle" fill="#222222">OCR/ECAR</text>
<text x="269.00" y="698.00" font-size="9.5" text-anchor="middle" fill="#222222">% Glycolysis</text>
<text x="325.00" y="698.00" font-size="9.5" text-anchor="middle" fill="#222222">% OXPHOS</text>
<path d="M388.90 558.12V680.40M385.40 558.90H388.90M385.40 589.30H388.90M385.40 619.60H388.90M385.40 650.00H388.90M385.40 680.20H388.90" stroke="#1d1b1b" stroke-width="1.55" fill="none"/>
<text x="383.60" y="562.50" font-size="8.3" text-anchor="end" fill="#2e2e2e">1.6</text>
<text x="383.60" y="592.90" font-size="8.3" text-anchor="end" fill="#2e2e2e">1.4</text>
<text x="383.60" y="623.20" font-size="8.3" text-anchor="end" fill="#2e2e2e">1.2</text>
<text x="383.60" y="653.60" font-size="8.3" text-anchor="end" fill="#2e2e2e">1.0</text>
<text x="383.60" y="683.80" font-size="8.3" text-anchor="end" fill="#2e2e2e">0.8</text>
<path d="M388.12 680.40H463.60M405.10 680.40V684.40M426.60 680.40V684.40M447.90 680.40V684.40" stroke="#1d1b1b" stroke-width="1.55" fill="none"/>
<rect x="398.05" y="650.50" width="14.10" height="29.90" fill="#ffffff" stroke="#1d1b1b" stroke-width="1.5"/>
<rect x="419.85" y="602.80" width="13.60" height="77.60" fill="#f2b1b5" stroke="#1d1b1b" stroke-width="1.5"/>
<rect x="441.15" y="611.90" width="13.50" height="68.50" fill="#e8686e" stroke="#1d1b1b" stroke-width="1.5"/>
<path d="M405.10 650.60V640.40M401.50 640.40H408.70" stroke="#1d1b1b" stroke-width="1.5" fill="none"/>
<path d="M426.65 602.90V598.10M423.05 598.10H430.25" stroke="#1d1b1b" stroke-width="1.5" fill="none"/>
<path d="M447.90 612.00V602.00M444.30 602.00H451.50" stroke="#1d1b1b" stroke-width="1.5" fill="none"/>
<circle cx="404.40" cy="629.00" r="2.85" fill="#fff" stroke="#1d1b1b" stroke-width="1.45"/>
<circle cx="401.50" cy="660.20" r="2.85" fill="#fff" stroke="#1d1b1b" stroke-width="1.45"/>
<circle cx="408.60" cy="659.10" r="2.85" fill="#fff" stroke="#1d1b1b" stroke-width="1.45"/>
<circle cx="425.60" cy="594.40" r="2.85" fill="#fff" stroke="#1d1b1b" stroke-width="1.45"/>
<circle cx="422.80" cy="608.60" r="2.85" fill="#fff" stroke="#1d1b1b" stroke-width="1.45"/>
<circle cx="429.90" cy="602.90" r="2.85" fill="#fff" stroke="#1d1b1b" stroke-width="1.45"/>
<circle cx="447.50" cy="593.00" r="2.85" fill="#fff" stroke="#1d1b1b" stroke-width="1.45"/>
<circle cx="444.10" cy="621.30" r="2.85" fill="#fff" stroke="#1d1b1b" stroke-width="1.45"/>
<circle cx="451.20" cy="619.40" r="2.85" fill="#fff" stroke="#1d1b1b" stroke-width="1.45"/>
<path d="M398.60 585.90V565.40H455.20V585.90M398.60 577.40H455.20M426.80 577.40V585.90" stroke="#1d1b1b" stroke-width="1.5" fill="none"/>
<path d="M424.50 558.30 L425.16 560.09 L427.07 560.17 L425.57 561.35 L426.09 563.18 L424.50 562.12 L422.91 563.18 L423.43 561.35 L421.93 560.17 L423.84 560.09Z" fill="#222222"/>
<path d="M429.10 558.30 L429.76 560.09 L431.67 560.17 L430.17 561.35 L430.69 563.18 L429.10 562.12 L427.51 563.18 L428.03 561.35 L426.53 560.17 L428.44 560.09Z" fill="#222222"/>
<path d="M408.10 569.70 L408.76 571.49 L410.67 571.57 L409.17 572.75 L409.69 574.58 L408.10 573.52 L406.51 574.58 L407.03 572.75 L405.53 571.57 L407.44 571.49Z" fill="#222222"/>
<path d="M412.70 569.70 L413.36 571.49 L415.27 571.57 L413.77 572.75 L414.29 574.58 L412.70 573.52 L411.11 574.58 L411.63 572.75 L410.13 571.57 L412.04 571.49Z" fill="#222222"/>
<path d="M417.30 569.70 L417.96 571.49 L419.87 571.57 L418.37 572.75 L418.89 574.58 L417.30 573.52 L415.71 574.58 L416.23 572.75 L414.73 571.57 L416.64 571.49Z" fill="#222222"/>
<text x="441.00" y="574.00" font-size="9.0" text-anchor="middle" fill="#222222">ns</text>
<text x="357.80" y="620.20" font-size="9.5" text-anchor="middle" fill="#222222" transform="rotate(-90 357.80 620.20)">Lactate release</text>
<text x="368.60" y="620.40" font-size="9.5" text-anchor="middle" fill="#222222" transform="rotate(-90 368.60 620.40)">[Normalized to Ctrl]</text>
<text x="429.00" y="695.70" font-size="9.5" text-anchor="middle" fill="#222222">Lactate Release</text>
<path d="M509.60 561.83V679.30M506.30 562.60H509.60M506.30 602.00H509.60M506.30 641.00H509.60M506.30 679.30H509.60" stroke="#1d1b1b" stroke-width="1.55" fill="none"/>
<text x="505.30" y="565.40" font-size="8.3" text-anchor="end" fill="#2e2e2e">1.5</text>
<text x="505.30" y="604.80" font-size="8.3" text-anchor="end" fill="#2e2e2e">1.0</text>
<text x="505.30" y="643.80" font-size="8.3" text-anchor="end" fill="#2e2e2e">0.5</text>
<text x="505.30" y="682.10" font-size="8.3" text-anchor="end" fill="#2e2e2e">0.0</text>
<path d="M508.83 679.30H561.60M526.20 679.30V682.50M545.70 679.30V682.50" stroke="#1d1b1b" stroke-width="1.55" fill="none"/>
<rect x="518.85" y="602.30" width="14.70" height="77.00" fill="#f2b1b5" stroke="#1d1b1b" stroke-width="1.5"/>
<clipPath id="hc7"><rect x="538.75" y="603.60" width="14.10" height="75.70"/></clipPath>
<rect x="538.75" y="603.60" width="14.10" height="75.70" fill="#f2b1b5"/>
<path d="M537.75 697.30L553.85 678.11M537.75 692.90L553.85 673.71M537.75 688.50L553.85 669.31M537.75 684.10L553.85 664.91M537.75 679.70L553.85 660.51M537.75 675.30L553.85 656.11M537.75 670.90L553.85 651.71M537.75 666.50L553.85 647.31M537.75 662.10L553.85 642.91M537.75 657.70L553.85 638.51M537.75 653.30L553.85 634.11M537.75 648.90L553.85 629.71M537.75 644.50L553.85 625.31M537.75 640.10L553.85 620.91M537.75 635.70L553.85 616.51M537.75 631.30L553.85 612.11M537.75 626.90L553.85 607.71M537.75 622.50L553.85 603.31M537.75 618.10L553.85 598.91M537.75 613.70L553.85 594.51M537.75 609.30L553.85 590.11M537.75 604.90L553.85 585.71" stroke="#fff" stroke-width="1.15" clip-path="url(#hc7)" fill="none"/>
<rect x="538.75" y="603.60" width="14.10" height="75.70" fill="none" stroke="#1d1b1b" stroke-width="1.5"/>
<circle cx="522.60" cy="606.40" r="2.85" fill="#fff" stroke="#1d1b1b" stroke-width="1.45"/>
<circle cx="526.10" cy="599.00" r="2.85" fill="#fff" stroke="#1d1b1b" stroke-width="1.45"/>
<circle cx="529.80" cy="600.20" r="2.85" fill="#fff" stroke="#1d1b1b" stroke-width="1.45"/>
<circle cx="541.70" cy="607.40" r="2.85" fill="#fff" stroke="#1d1b1b" stroke-width="1.45"/>
<circle cx="546.20" cy="600.20" r="2.85" fill="#fff" stroke="#1d1b1b" stroke-width="1.45"/>
<circle cx="549.90" cy="602.70" r="2.85" fill="#fff" stroke="#1d1b1b" stroke-width="1.45"/>
<path d="M518.10 574.20H554.10" stroke="#1d1b1b" stroke-width="1.5" fill="none"/>
<text x="536.10" y="570.80" font-size="9.0" text-anchor="middle" fill="#222222">ns</text>
<text x="525.80" y="689.50" font-size="9.5" text-anchor="middle" fill="#222222">-</text>
<text x="545.60" y="690.00" font-size="9.5" text-anchor="middle" fill="#222222">+</text>
<text x="557.50" y="690.40" font-size="9.5" text-anchor="start" fill="#222222">Li</text>
<path d="M515.2 693.2H555.9" stroke="#1d1b1b" stroke-width="1.5" fill="none"/>
<text x="535.50" y="704.20" font-size="9.5" text-anchor="middle" fill="#222222">Li-R</text>
<text x="477.80" y="622.40" font-size="9.5" text-anchor="middle" fill="#222222" transform="rotate(-90 477.80 622.40)">Lactate release</text>
<text x="488.60" y="622.60" font-size="9.5" text-anchor="middle" fill="#222222" transform="rotate(-90 488.60 622.60)">[Normalized to Li-R (Li-)]</text>
<path d="M610.00 565.52V679.20M606.90 566.30H610.00M606.90 594.40H610.00M606.90 622.50H610.00M606.90 650.60H610.00M606.90 679.20H610.00" stroke="#1d1b1b" stroke-width="1.55" fill="none"/>
<text x="605.80" y="569.30" font-size="8.3" text-anchor="end" fill="#2e2e2e">80</text>
<text x="605.80" y="597.40" font-size="8.3" text-anchor="end" fill="#2e2e2e">60</text>
<text x="605.80" y="625.50" font-size="8.3" text-anchor="end" fill="#2e2e2e">40</text>
<text x="605.80" y="653.60" font-size="8.3" text-anchor="end" fill="#2e2e2e">20</text>
<text x="605.80" y="682.20" font-size="8.3" text-anchor="end" fill="#2e2e2e">0</text>
<path d="M609.23 679.20H682.80M625.80 679.20V682.50M646.80 679.20V682.50M668.10 679.20V682.50" stroke="#1d1b1b" stroke-width="1.55" fill="none"/>
<rect x="619.05" y="608.80" width="13.90" height="70.40" fill="#ffffff" stroke="#1d1b1b" stroke-width="1.5"/>
<rect x="640.15" y="619.20" width="13.30" height="60.00" fill="#f2b1b5" stroke="#1d1b1b" stroke-width="1.5"/>
<rect x="661.15" y="620.40" width="13.40" height="58.80" fill="#e8686e" stroke="#1d1b1b" stroke-width="1.5"/>
<path d="M626.00 608.90V589.50M622.40 589.50H629.60" stroke="#1d1b1b" stroke-width="1.5" fill="none"/>
<path d="M646.80 619.30V613.10M643.20 613.10H650.40" stroke="#1d1b1b" stroke-width="1.5" fill="none"/>
<path d="M667.85 620.50V608.60M664.25 608.60H671.45" stroke="#1d1b1b" stroke-width="1.5" fill="none"/>
<circle cx="626.00" cy="573.40" r="2.85" fill="#fff" stroke="#1d1b1b" stroke-width="1.45"/>
<circle cx="626.00" cy="615.10" r="2.85" fill="#fff" stroke="#1d1b1b" stroke-width="1.45"/>
<circle cx="626.00" cy="636.20" r="2.85" fill="#fff" stroke="#1d1b1b" stroke-width="1.45"/>
<circle cx="646.80" cy="610.10" r="2.85" fill="#fff" stroke="#1d1b1b" stroke-width="1.45"/>
<circle cx="646.80" cy="619.30" r="2.85" fill="#fff" stroke="#1d1b1b" stroke-width="1.45"/>
<circle cx="646.80" cy="626.00" r="2.85" fill="#fff" stroke="#1d1b1b" stroke-width="1.45"/>
<circle cx="667.90" cy="597.70" r="2.85" fill="#fff" stroke="#1d1b1b" stroke-width="1.45"/>
<circle cx="667.90" cy="627.50" r="2.85" fill="#fff" stroke="#1d1b1b" stroke-width="1.45"/>
<circle cx="667.90" cy="633.70" r="2.85" fill="#fff" stroke="#1d1b1b" stroke-width="1.45"/>
<path d="M618.30 566.70H675.80" stroke="#1d1b1b" stroke-width="1.5" fill="none"/>
<text x="647.05" y="563.30" font-size="9.0" text-anchor="middle" fill="#222222">ns</text>
<text x="580.60" y="623.40" font-size="9.5" text-anchor="middle" fill="#222222" transform="rotate(-90 580.60 623.40)">% of Glutamate uptake</text>
<text x="592.00" y="623.50" font-size="9.5" text-anchor="middle" fill="#222222" transform="rotate(-90 592.00 623.50)">[Normalized with protein]</text>
<text x="625.30" y="691.70" font-size="9.5" text-anchor="middle" fill="#222222">Ctrl</text>
<text x="645.90" y="691.70" font-size="9.5" text-anchor="middle" fill="#222222">Li-R</text>
<text x="670.00" y="691.70" font-size="9.5" text-anchor="middle" fill="#222222">Li-NR</text>
<g opacity="0.95">
<path d="M30.58 56.57Q33.46 63.78 41.22 64.03Q38.34 56.82 30.58 56.57Z" fill="#f4d4c0" stroke="#fff" stroke-width="0.55"/>
<ellipse cx="35.90" cy="60.30" rx="2.21" ry="1.61" transform="rotate(35 35.90 60.30)" fill="#e8aa8a" opacity="0.75"/>
<path d="M13.66 67.36Q21.99 70.45 28.34 64.24Q20.01 61.15 13.66 67.36Z" fill="#f4d4c0" stroke="#fff" stroke-width="0.55"/>
<ellipse cx="21.00" cy="65.80" rx="2.55" ry="1.80" transform="rotate(-12 21.00 65.80)" fill="#e8aa8a" opacity="0.75"/>
<path d="M22.52 68.88Q30.03 71.79 35.08 65.52Q27.57 62.61 22.52 68.88Z" fill="#f4d4c0" stroke="#fff" stroke-width="0.55"/>
<ellipse cx="28.80" cy="67.20" rx="2.21" ry="1.80" transform="rotate(-15 28.80 67.20)" fill="#e8aa8a" opacity="0.75"/>
<path d="M46.28 64.12Q40.98 69.43 42.92 76.68Q48.22 71.37 46.28 64.12Z" fill="#f4d4c0" stroke="#fff" stroke-width="0.55"/>
<ellipse cx="44.60" cy="70.40" rx="2.21" ry="1.43" transform="rotate(105 44.60 70.40)" fill="#e8aa8a" opacity="0.75"/>
<path d="M10.12 69.51Q15.16 76.13 23.28 74.29Q18.24 67.67 10.12 69.51Z" fill="#f4d4c0" stroke="#fff" stroke-width="0.55"/>
<ellipse cx="16.70" cy="71.90" rx="2.38" ry="1.71" transform="rotate(20 16.70 71.90)" fill="#e8aa8a" opacity="0.75"/>
<path d="M18.56 74.05Q25.82 76.46 29.84 69.95Q22.58 67.54 18.56 74.05Z" fill="#f4d4c0" stroke="#fff" stroke-width="0.55"/>
<ellipse cx="24.20" cy="72.00" rx="2.04" ry="1.80" transform="rotate(-20 24.20 72.00)" fill="#e8aa8a" opacity="0.75"/>
<path d="M28.31 73.55Q36.21 75.10 40.09 68.05Q32.19 66.50 28.31 73.55Z" fill="#f4d4c0" stroke="#fff" stroke-width="0.55"/>
<ellipse cx="34.20" cy="70.80" rx="2.21" ry="1.80" transform="rotate(-25 34.20 70.80)" fill="#e8aa8a" opacity="0.75"/>
<path d="M31.69 78.84Q39.18 79.09 41.51 71.96Q34.02 71.71 31.69 78.84Z" fill="#f4d4c0" stroke="#fff" stroke-width="0.55"/>
<ellipse cx="36.60" cy="75.40" rx="2.04" ry="1.71" transform="rotate(-35 36.60 75.40)" fill="#e8aa8a" opacity="0.75"/>
<path d="M9.82 72.00Q11.53 79.88 19.18 82.40Q17.47 74.52 9.82 72.00Z" fill="#f4d4c0" stroke="#fff" stroke-width="0.55"/>
<ellipse cx="14.50" cy="77.20" rx="2.38" ry="1.52" transform="rotate(48 14.50 77.20)" fill="#e8aa8a" opacity="0.75"/>
<path d="M21.27 79.85Q29.27 80.71 32.53 73.35Q24.52 72.49 21.27 79.85Z" fill="#f4d4c0" stroke="#fff" stroke-width="0.55"/>
<ellipse cx="26.90" cy="76.60" rx="2.21" ry="1.80" transform="rotate(-30 26.90 76.60)" fill="#e8aa8a" opacity="0.75"/>
<path d="M29.55 82.36Q37.34 85.30 43.25 79.44Q35.46 76.50 29.55 82.36Z" fill="#f4d4c0" stroke="#fff" stroke-width="0.55"/>
<ellipse cx="36.40" cy="80.90" rx="2.38" ry="1.71" transform="rotate(-12 36.40 80.90)" fill="#e8aa8a" opacity="0.75"/>
<path d="M18.12 82.61Q23.16 89.23 31.28 87.39Q26.24 80.77 18.12 82.61Z" fill="#f4d4c0" stroke="#fff" stroke-width="0.55"/>
<ellipse cx="24.70" cy="85.00" rx="2.38" ry="1.71" transform="rotate(20 24.70 85.00)" fill="#e8aa8a" opacity="0.75"/>
<path d="M27.35 85.17Q33.46 89.10 38.25 83.63Q32.14 79.70 27.35 85.17Z" fill="#f4d4c0" stroke="#fff" stroke-width="0.55"/>
<ellipse cx="32.80" cy="84.40" rx="1.87" ry="1.80" transform="rotate(-8 32.80 84.40)" fill="#e8aa8a" opacity="0.75"/>
<path d="M36.43 83.95Q41.47 89.11 48.17 86.45Q43.13 81.29 36.43 83.95Z" fill="#f4d4c0" stroke="#fff" stroke-width="0.55"/>
<ellipse cx="42.30" cy="85.20" rx="2.04" ry="1.52" transform="rotate(12 42.30 85.20)" fill="#e8aa8a" opacity="0.75"/>
<path d="M14.97 78.39Q17.92 83.90 24.03 82.61Q21.08 77.10 14.97 78.39Z" fill="#f4d4c0" stroke="#fff" stroke-width="0.55"/>
<ellipse cx="19.50" cy="80.50" rx="1.70" ry="1.43" transform="rotate(25 19.50 80.50)" fill="#e8aa8a" opacity="0.75"/>
<path d="M26.42 82.70Q32.08 84.20 34.58 78.90Q28.92 77.40 26.42 82.70Z" fill="#f4d4c0" stroke="#fff" stroke-width="0.55"/>
<ellipse cx="30.50" cy="80.80" rx="1.53" ry="1.43" transform="rotate(-25 30.50 80.80)" fill="#e8aa8a" opacity="0.75"/>
<path d="M32.6 86 L32.4 91" stroke="#f0c4a8" stroke-width="0.9"/>
<path d="M30.4 55.0 L34 58.5" stroke="#f0c4a8" stroke-width="0.7"/>
</g>
<path d="M24.3 123.2 L21.8 119.6 L21.1 114.5 L20.7 110.5" stroke="#d9914a" stroke-width="1.15" fill="none" stroke-linecap="round" stroke-linejoin="round"/>
<path d="M21.2 115.2 L16.0 111.9" stroke="#d9914a" stroke-width="0.75" fill="none" stroke-linecap="round" stroke-linejoin="round"/>
<path d="M21.8 119.2 L14.9 116.7" stroke="#d9914a" stroke-width="0.75" fill="none" stroke-linecap="round" stroke-linejoin="round"/>
<path d="M29.1 122.5 L29.8 118.1 L34.2 115.2 L38.6 113.0 L39.7 109.7" stroke="#d9914a" stroke-width="1.15" fill="none" stroke-linecap="round" stroke-linejoin="round"/>
<path d="M34.2 115.6 L36.4 118.5 L39.3 119.2" stroke="#d9914a" stroke-width="1.15" fill="none" stroke-linecap="round" stroke-linejoin="round"/>
<path d="M31.3 125.8 L37.8 125.1 L45.9 124.3" stroke="#d9914a" stroke-width="1.15" fill="none" stroke-linecap="round" stroke-linejoin="round"/>
<path d="M37.8 125.8 L43.0 126.9" stroke="#d9914a" stroke-width="0.75" fill="none" stroke-linecap="round" stroke-linejoin="round"/>
<path d="M29.1 129.1 L32.0 134.2 L34.2 139.3 L37.8 146.6" stroke="#d9914a" stroke-width="1.15" fill="none" stroke-linecap="round" stroke-linejoin="round"/>
<path d="M32.4 134.6 L41.5 134.9" stroke="#d9914a" stroke-width="0.75" fill="none" stroke-linecap="round" stroke-linejoin="round"/>
<path d="M34.9 135.7 L38.9 139.3" stroke="#d9914a" stroke-width="0.75" fill="none" stroke-linecap="round" stroke-linejoin="round"/>
<path d="M24.7 127.6 L19.6 128.4 L11.6 126.5" stroke="#d9914a" stroke-width="1.15" fill="none" stroke-linecap="round" stroke-linejoin="round"/>
<path d="M18.9 128.7 L14.5 134.9" stroke="#d9914a" stroke-width="0.75" fill="none" stroke-linecap="round" stroke-linejoin="round"/>
<path d="M15.2 127.6 L11.6 130.5" stroke="#d9914a" stroke-width="0.75" fill="none" stroke-linecap="round" stroke-linejoin="round"/>
<path d="M23.4 122.4 Q26.5 123.6 29.4 121.2 Q29.6 123.6 32.8 125.5 Q30.2 126.8 29.8 130.2 Q27.5 128.6 24.2 128.6 Q25.6 126 23.4 122.4 Z" fill="#d9914a" stroke="#d9914a" stroke-width="0.8" stroke-linejoin="round"/>
<circle cx="27.9" cy="125.9" r="2.9" fill="#d9914a"/>
<circle cx="28.1" cy="126.1" r="1.4" fill="#a5541f"/>
<ellipse cx="45.6" cy="124.4" rx="1.3" ry="1.0" fill="#d9914a"/>
<ellipse cx="42.8" cy="127.0" rx="1.0" ry="1.2" fill="#d9914a"/>
<ellipse cx="37.9" cy="146.3" rx="1.5" ry="0.9" fill="#d9914a"/>
<path d="M62.3 88.9 L79.0 106.2" stroke="#1a1a1a" stroke-width="1.1"/>
<path d="M82.8 109.8 L76.6 107.6 L80.4 103.8 Z" fill="#1a1a1a"/>
<path d="M62.3 141.2 L79.0 123.8" stroke="#1a1a1a" stroke-width="1.1"/>
<path d="M82.8 120.2 L76.8 122.3 L80.8 126.1 Z" fill="#1a1a1a"/>
<g stroke-linejoin="round">
<path d="M127.1 90.1 L129.9 81 L134.4 78.3 L148 77.4 L150.7 80.1 L152 97.3 L139.8 99.1 L127.1 95.5 Z" fill="#d9d9d9" stroke="#b9b9b9" stroke-width="0.7"/>
<path d="M129.9 81 L134.4 78.3 L148 77.4 L150.7 80.1 L139 81.3 Z" fill="#e9e9e9" stroke="#c4c4c4" stroke-width="0.5"/>
<path d="M139 81.3 L150.7 80.1 L152 97.3 L140 99 Z" fill="#cfcfcf"/>
<path d="M128.5 86.5 L139.3 86 M128 91 L139.6 91.5 M139.4 86 L151.3 85.3 M139.6 91.5 L151.6 90.8" stroke="#c2c2c2" stroke-width="0.4" fill="none"/>
<circle cx="136.5" cy="79.8" r="0.8" fill="#a9c9da"/>
<path d="M136.2 99.1 L152 97.3 L156.6 101.9 L157.9 117.2 L154.3 119.1 L136.2 120.9 Z" fill="#d6d6d6" stroke="#b5b5b5" stroke-width="0.7"/>
<path d="M145.2 103.5 L157.2 102.8 L157.5 111.5 L145.4 112.6 Z" fill="#9a9a9a"/>
<path d="M146.0 106.8 L150.0 104.9 L157.2 104.6 L157.3 108.4 L151 109.6 L146.4 109.4 Z" fill="#86d174"/>
<path d="M145.5 113.5 L157.6 112.4 M145.6 116 L157.8 115" stroke="#bdbdbd" stroke-width="0.45" fill="none"/>
<path d="M136.2 108 L145 107 L145.5 119.8 L136.2 120.9 Z" fill="#c9c9c9"/>
<path d="M111.8 124.9 L114 120.5 L131.5 119.2 L133.2 124.3 Z" fill="#e3e3e3" stroke="#c4c4c4" stroke-width="0.5"/>
<path d="M118 115 L128 116 L127 121 L119 120.5 Z" fill="#d8d8d8" stroke="#c4c4c4" stroke-width="0.4"/>
<path d="M106.8 92.4 L139.4 95.1 L136.2 117.2 L104.1 112.7 Z" fill="#e2e2e2" stroke="#a9a9a9" stroke-width="0.8"/>
<path d="M109 94.6 L137.4 96.9 L134.6 114.9 L106.8 110.9 Z" fill="#f3f3f3" stroke="#b3b3b3" stroke-width="0.6"/>
<path d="M118 95.4 L130 96.4 L117 112.6 L108 111.2 Z" fill="#ffffff" opacity="0.9"/>
<path d="M128 113.9 L136.3 102 L134.6 114.9 Z" fill="#dcdcdc"/>
<path d="M104.6 112.8 L136.1 117.1" stroke="#9c9c9c" stroke-width="0.8"/>
</g>
<text x="27.50" y="102.60" font-size="9.3" text-anchor="middle" fill="#262626" font-weight="bold">NPCs</text>
<text x="26.60" y="157.60" font-size="9.4" text-anchor="middle" fill="#262626" font-weight="bold">iAstrocytes</text>
<text x="127.20" y="137.80" font-size="9.4" text-anchor="middle" fill="#262626" font-weight="bold">Metabolic Flux</text>
<rect x="1.6" y="170.2" width="164.0" height="29.0" fill="none" stroke="#555" stroke-width="1.1"/>
<text x="51.90" y="179.90" font-size="9.5" text-anchor="end" fill="#222222">iAstrocytes</text>
<text x="51.90" y="194.70" font-size="9.5" text-anchor="end" fill="#222222">NPCs</text>
<rect x="56.6" y="174.0" width="7.4" height="7.4" fill="#ffffff" stroke="#777" stroke-width="0.8"/>
<rect x="87.1" y="174.0" width="7.4" height="7.4" fill="#f2b1b5" stroke="#777" stroke-width="0.8"/>
<rect x="120.4" y="174.0" width="7.4" height="7.4" fill="#e8686e" stroke="#777" stroke-width="0.8"/>
<text x="67.80" y="180.40" font-size="9.5" text-anchor="start" fill="#222222">Ctrl</text>
<text x="97.60" y="180.40" font-size="9.5" text-anchor="start" fill="#222222">Li-R</text>
<text x="131.40" y="180.40" font-size="9.5" text-anchor="start" fill="#222222">Li-NR</text>
<rect x="56.6" y="188.6" width="7.4" height="7.4" fill="#ffffff" stroke="#777" stroke-width="0.8"/>
<rect x="87.1" y="188.6" width="7.4" height="7.4" fill="#a9cbeb" stroke="#777" stroke-width="0.8"/>
<rect x="120.4" y="188.6" width="7.4" height="7.4" fill="#3a7ec6" stroke="#777" stroke-width="0.8"/>
<text x="67.80" y="195.00" font-size="9.5" text-anchor="start" fill="#222222">Ctrl</text>
<text x="97.60" y="195.00" font-size="9.5" text-anchor="start" fill="#222222">Li-R</text>
<text x="131.40" y="195.00" font-size="9.5" text-anchor="start" fill="#222222">Li-NR</text>
</svg>
</body></html>
